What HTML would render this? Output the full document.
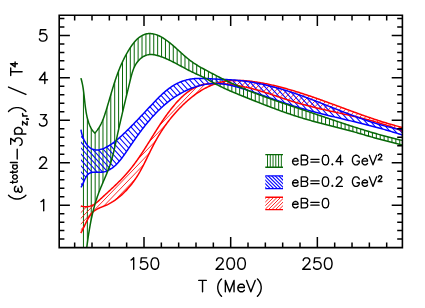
<!DOCTYPE html>
<html><head><meta charset="utf-8"><title>plot</title>
<style>html,body{margin:0;padding:0;background:#fff;font-family:"Liberation Sans",sans-serif;}svg{display:block;}</style></head>
<body>
<svg width="425" height="308" viewBox="0 0 425 308">
<rect x="0" y="0" width="425" height="308" fill="#fff"/>
<defs>
<clipPath id="frame"><rect x="59.2" y="15.3" width="343.2" height="232.29999999999998"/></clipPath>
<clipPath id="cg"><path d="M80.90 78.10 L81.18 79.05 L81.45 80.01 L81.70 80.98 L81.93 81.96 L82.16 82.94 L82.36 83.93 L82.56 84.92 L82.75 85.92 L82.92 86.93 L83.09 87.94 L83.24 88.96 L83.39 89.98 L83.53 91.01 L83.67 92.03 L83.80 93.07 L83.92 94.10 L84.04 95.14 L84.16 96.18 L84.27 97.22 L84.39 98.26 L84.50 99.31 L84.61 100.35 L84.72 101.39 L84.84 102.44 L84.95 103.48 L85.08 104.52 L85.20 105.56 L85.33 106.60 L85.46 107.64 L85.60 108.68 L85.75 109.71 L85.91 110.74 L86.07 111.76 L86.25 112.78 L86.44 113.80 L86.63 114.81 L86.84 115.82 L87.06 116.82 L87.30 117.82 L87.55 118.81 L87.82 119.79 L88.10 120.76 L88.40 121.73 L88.71 122.69 L89.05 123.64 L89.40 124.59 L89.78 125.52 L90.19 126.44 L90.63 127.34 L91.10 128.23 L91.60 129.09 L92.14 129.94 L92.73 130.77 L93.36 131.57 L94.03 132.35 L94.76 133.10 L95.44 132.38 L96.09 131.64 L96.71 130.88 L97.31 130.10 L97.89 129.30 L98.44 128.48 L98.98 127.65 L99.49 126.80 L99.99 125.94 L100.46 125.06 L100.92 124.17 L101.36 123.27 L101.78 122.36 L102.20 121.44 L102.59 120.50 L102.97 119.56 L103.35 118.62 L103.71 117.66 L104.06 116.70 L104.40 115.74 L104.73 114.77 L105.05 113.80 L105.37 112.82 L105.68 111.85 L105.99 110.87 L106.29 109.89 L106.59 108.92 L106.89 107.95 L107.18 106.97 L107.47 106.00 L107.76 105.03 L108.05 104.07 L108.33 103.10 L108.62 102.13 L108.90 101.17 L109.18 100.21 L109.47 99.25 L109.75 98.29 L110.03 97.33 L110.31 96.37 L110.59 95.42 L110.87 94.46 L111.15 93.51 L111.43 92.56 L111.71 91.61 L112.00 90.66 L112.28 89.71 L112.57 88.76 L112.86 87.81 L113.15 86.87 L113.44 85.93 L113.73 84.99 L114.03 84.04 L114.33 83.10 L114.63 82.17 L114.94 81.23 L115.25 80.29 L115.56 79.36 L115.88 78.43 L116.20 77.49 L116.52 76.56 L116.85 75.63 L117.19 74.70 L117.53 73.78 L117.87 72.85 L118.22 71.92 L118.58 71.00 L118.94 70.08 L119.31 69.16 L119.68 68.23 L120.06 67.32 L120.45 66.40 L120.84 65.48 L121.24 64.56 L121.65 63.65 L122.06 62.73 L122.49 61.82 L122.92 60.91 L123.36 60.00 L123.80 59.09 L124.26 58.18 L124.72 57.27 L125.20 56.37 L125.68 55.46 L126.17 54.56 L126.68 53.66 L127.19 52.75 L127.71 51.85 L128.24 50.95 L128.78 50.05 L129.34 49.16 L129.90 48.26 L130.48 47.38 L131.07 46.50 L131.67 45.63 L132.28 44.77 L132.91 43.93 L133.55 43.10 L134.20 42.30 L134.87 41.52 L135.55 40.76 L136.25 40.02 L136.96 39.32 L137.69 38.64 L138.44 38.00 L139.20 37.39 L139.98 36.82 L140.77 36.29 L141.59 35.80 L142.42 35.36 L143.27 34.96 L144.14 34.61 L145.02 34.31 L145.92 34.06 L146.83 33.85 L147.75 33.70 L148.68 33.60 L149.61 33.56 L150.54 33.56 L151.48 33.63 L152.41 33.74 L153.35 33.90 L154.28 34.11 L155.21 34.36 L156.14 34.66 L157.07 34.99 L157.99 35.37 L158.91 35.77 L159.82 36.22 L160.73 36.69 L161.64 37.19 L162.54 37.71 L163.43 38.26 L164.31 38.83 L165.18 39.41 L166.05 40.02 L166.91 40.63 L167.75 41.26 L168.59 41.90 L169.42 42.55 L170.23 43.20 L171.03 43.85 L171.83 44.51 L172.61 45.17 L173.39 45.84 L174.16 46.50 L174.92 47.18 L175.68 47.85 L176.43 48.52 L177.17 49.19 L177.91 49.87 L178.65 50.54 L179.39 51.21 L180.12 51.88 L180.86 52.55 L181.59 53.22 L182.32 53.88 L183.06 54.54 L183.79 55.20 L184.53 55.85 L185.27 56.49 L186.02 57.13 L186.77 57.77 L187.52 58.39 L188.29 59.01 L189.05 59.62 L189.83 60.23 L190.61 60.82 L191.41 61.41 L192.21 61.98 L193.02 62.55 L193.84 63.11 L194.67 63.65 L195.51 64.19 L196.36 64.73 L197.21 65.25 L198.07 65.77 L198.94 66.28 L199.81 66.78 L200.68 67.28 L201.56 67.78 L202.44 68.27 L203.33 68.76 L204.21 69.24 L205.10 69.72 L205.99 70.20 L206.88 70.68 L207.77 71.16 L208.66 71.63 L209.55 72.11 L210.44 72.58 L211.33 73.05 L212.23 73.52 L213.12 73.99 L214.01 74.45 L214.90 74.92 L215.80 75.38 L216.69 75.84 L217.59 76.30 L218.48 76.75 L219.38 77.21 L220.28 77.66 L221.17 78.11 L222.07 78.56 L222.97 79.00 L223.87 79.45 L224.77 79.89 L225.67 80.33 L226.58 80.77 L227.48 81.21 L228.38 81.64 L229.29 82.07 L230.19 82.50 L231.10 82.93 L232.00 83.35 L232.91 83.77 L233.82 84.19 L234.73 84.61 L235.64 85.03 L236.55 85.44 L237.47 85.85 L238.38 86.26 L239.30 86.66 L240.21 87.07 L241.13 87.47 L242.05 87.87 L242.97 88.26 L243.89 88.65 L244.81 89.04 L245.73 89.43 L246.65 89.81 L247.58 90.20 L248.51 90.58 L249.43 90.95 L250.36 91.33 L251.29 91.70 L252.22 92.07 L253.15 92.44 L254.08 92.80 L255.02 93.17 L255.95 93.53 L256.89 93.89 L257.82 94.24 L258.76 94.60 L259.70 94.95 L260.64 95.30 L261.57 95.65 L262.51 96.00 L263.45 96.35 L264.40 96.69 L265.34 97.04 L266.28 97.38 L267.22 97.72 L268.17 98.06 L269.11 98.39 L270.06 98.73 L271.00 99.06 L271.95 99.40 L272.90 99.73 L273.84 100.06 L274.79 100.39 L275.74 100.72 L276.69 101.04 L277.64 101.37 L278.59 101.70 L279.54 102.02 L280.49 102.34 L281.44 102.67 L282.39 102.99 L283.34 103.31 L284.29 103.63 L285.24 103.95 L286.20 104.27 L287.15 104.59 L288.10 104.91 L289.05 105.23 L290.01 105.54 L290.96 105.86 L291.91 106.18 L292.87 106.50 L293.82 106.81 L294.77 107.13 L295.72 107.45 L296.68 107.76 L297.63 108.08 L298.58 108.40 L299.54 108.71 L300.49 109.03 L301.44 109.35 L302.40 109.66 L303.35 109.98 L304.30 110.30 L305.25 110.62 L306.20 110.94 L307.16 111.26 L308.11 111.58 L309.06 111.90 L310.01 112.22 L310.96 112.54 L311.91 112.86 L312.86 113.18 L313.81 113.50 L314.76 113.82 L315.71 114.15 L316.66 114.47 L317.61 114.79 L318.56 115.11 L319.51 115.43 L320.46 115.76 L321.41 116.08 L322.36 116.40 L323.31 116.72 L324.26 117.04 L325.21 117.37 L326.16 117.69 L327.11 118.01 L328.06 118.33 L329.01 118.65 L329.96 118.97 L330.91 119.29 L331.86 119.61 L332.81 119.93 L333.76 120.25 L334.71 120.57 L335.66 120.89 L336.61 121.21 L337.56 121.53 L338.52 121.85 L339.47 122.16 L340.42 122.48 L341.37 122.80 L342.32 123.11 L343.27 123.43 L344.22 123.74 L345.17 124.05 L346.13 124.37 L347.08 124.68 L348.03 124.99 L348.98 125.30 L349.94 125.61 L350.89 125.92 L351.84 126.23 L352.80 126.53 L353.75 126.84 L354.71 127.14 L355.66 127.45 L356.62 127.75 L357.57 128.05 L358.53 128.35 L359.48 128.65 L360.44 128.95 L361.39 129.25 L362.35 129.55 L363.31 129.84 L364.27 130.14 L365.23 130.43 L366.18 130.72 L367.14 131.01 L368.10 131.30 L369.06 131.59 L370.02 131.87 L370.98 132.16 L371.95 132.44 L372.91 132.72 L373.87 133.00 L374.83 133.28 L375.80 133.56 L376.76 133.83 L377.72 134.11 L378.69 134.38 L379.65 134.65 L380.62 134.92 L381.59 135.19 L382.55 135.45 L383.52 135.72 L384.49 135.98 L385.46 136.24 L386.43 136.50 L387.40 136.75 L388.37 137.01 L389.34 137.26 L390.31 137.51 L391.29 137.76 L392.26 138.01 L393.23 138.25 L394.21 138.49 L395.19 138.73 L396.16 138.97 L397.14 139.21 L398.12 139.44 L399.10 139.67 L400.07 139.90 L401.05 140.13 L402.04 140.36 L403.02 140.58 L404.00 140.80 L404.00 145.60 L403.04 145.31 L402.08 145.03 L401.12 144.75 L400.15 144.48 L399.18 144.21 L398.22 143.95 L397.25 143.68 L396.28 143.42 L395.31 143.17 L394.34 142.91 L393.37 142.66 L392.39 142.41 L391.42 142.16 L390.45 141.91 L389.47 141.67 L388.50 141.42 L387.52 141.18 L386.55 140.93 L385.58 140.69 L384.60 140.44 L383.63 140.20 L382.65 139.95 L381.68 139.71 L380.71 139.46 L379.74 139.21 L378.76 138.96 L377.79 138.70 L376.82 138.44 L375.86 138.19 L374.89 137.92 L373.92 137.66 L372.96 137.39 L371.99 137.12 L371.03 136.85 L370.07 136.57 L369.10 136.29 L368.14 136.02 L367.18 135.74 L366.22 135.45 L365.26 135.17 L364.30 134.89 L363.34 134.61 L362.38 134.33 L361.42 134.04 L360.46 133.76 L359.50 133.48 L358.54 133.20 L357.58 132.92 L356.62 132.64 L355.66 132.37 L354.70 132.10 L353.73 131.83 L352.77 131.56 L351.80 131.29 L350.84 131.03 L349.87 130.76 L348.90 130.50 L347.94 130.24 L346.97 129.98 L346.00 129.73 L345.03 129.47 L344.06 129.22 L343.09 128.97 L342.12 128.71 L341.15 128.46 L340.18 128.21 L339.21 127.96 L338.23 127.72 L337.26 127.47 L336.29 127.22 L335.32 126.97 L334.34 126.73 L333.37 126.48 L332.40 126.23 L331.43 125.99 L330.45 125.74 L329.48 125.50 L328.51 125.25 L327.54 125.00 L326.56 124.75 L325.59 124.51 L324.62 124.26 L323.65 124.01 L322.68 123.76 L321.70 123.51 L320.73 123.25 L319.76 123.00 L318.79 122.75 L317.82 122.49 L316.85 122.23 L315.88 121.97 L314.92 121.71 L313.95 121.45 L312.98 121.19 L312.01 120.92 L311.05 120.65 L310.08 120.38 L309.12 120.11 L308.16 119.84 L307.19 119.56 L306.23 119.28 L305.27 119.00 L304.31 118.71 L303.35 118.43 L302.39 118.14 L301.43 117.85 L300.48 117.55 L299.52 117.25 L298.56 116.95 L297.61 116.65 L296.66 116.35 L295.70 116.04 L294.75 115.73 L293.80 115.42 L292.85 115.10 L291.90 114.79 L290.95 114.47 L290.00 114.15 L289.05 113.83 L288.11 113.50 L287.16 113.18 L286.21 112.85 L285.27 112.52 L284.32 112.19 L283.38 111.85 L282.44 111.52 L281.49 111.18 L280.55 110.84 L279.61 110.50 L278.67 110.16 L277.73 109.81 L276.79 109.47 L275.85 109.12 L274.91 108.77 L273.97 108.42 L273.03 108.07 L272.09 107.72 L271.15 107.36 L270.22 107.01 L269.28 106.65 L268.34 106.29 L267.41 105.93 L266.47 105.57 L265.54 105.21 L264.60 104.85 L263.67 104.49 L262.73 104.12 L261.80 103.76 L260.87 103.39 L259.93 103.02 L259.00 102.66 L258.06 102.29 L257.13 101.92 L256.20 101.55 L255.27 101.18 L254.33 100.81 L253.40 100.44 L252.47 100.06 L251.54 99.69 L250.61 99.32 L249.67 98.95 L248.74 98.57 L247.81 98.20 L246.88 97.82 L245.95 97.45 L245.02 97.07 L244.09 96.70 L243.15 96.32 L242.22 95.95 L241.29 95.57 L240.36 95.20 L239.43 94.82 L238.50 94.44 L237.57 94.06 L236.64 93.68 L235.71 93.30 L234.79 92.91 L233.86 92.52 L232.94 92.13 L232.01 91.74 L231.09 91.35 L230.17 90.95 L229.25 90.55 L228.33 90.14 L227.42 89.74 L226.50 89.32 L225.59 88.91 L224.68 88.49 L223.77 88.06 L222.87 87.64 L221.96 87.20 L221.06 86.76 L220.16 86.32 L219.27 85.87 L218.38 85.41 L217.49 84.95 L216.60 84.48 L215.72 84.01 L214.84 83.53 L213.96 83.04 L213.09 82.55 L212.21 82.05 L211.34 81.56 L210.47 81.06 L209.60 80.56 L208.73 80.07 L207.85 79.59 L206.97 79.11 L206.09 78.65 L205.21 78.19 L204.32 77.74 L203.43 77.30 L202.53 76.87 L201.63 76.44 L200.74 76.02 L199.83 75.60 L198.93 75.19 L198.03 74.77 L197.13 74.36 L196.23 73.95 L195.33 73.53 L194.43 73.11 L193.53 72.69 L192.63 72.26 L191.74 71.83 L190.84 71.39 L189.96 70.94 L189.07 70.49 L188.18 70.03 L187.30 69.57 L186.42 69.10 L185.54 68.63 L184.65 68.16 L183.77 67.68 L182.89 67.20 L182.01 66.73 L181.13 66.25 L180.25 65.77 L179.37 65.29 L178.49 64.81 L177.60 64.33 L176.72 63.86 L175.83 63.39 L174.94 62.92 L174.04 62.46 L173.15 62.00 L172.25 61.55 L171.35 61.10 L170.44 60.66 L169.53 60.22 L168.62 59.79 L167.70 59.37 L166.77 58.96 L165.84 58.56 L164.91 58.17 L163.97 57.79 L163.02 57.42 L162.07 57.06 L161.11 56.72 L160.15 56.38 L159.18 56.06 L158.20 55.76 L157.22 55.48 L156.23 55.22 L155.25 55.00 L154.27 54.81 L153.29 54.66 L152.31 54.56 L151.34 54.50 L150.38 54.50 L149.43 54.56 L148.49 54.69 L147.57 54.88 L146.66 55.13 L145.76 55.43 L144.89 55.80 L144.03 56.22 L143.19 56.69 L142.37 57.20 L141.58 57.77 L140.81 58.37 L140.07 59.02 L139.35 59.70 L138.67 60.42 L138.01 61.17 L137.38 61.95 L136.79 62.75 L136.23 63.58 L135.70 64.44 L135.21 65.31 L134.75 66.20 L134.31 67.11 L133.90 68.03 L133.52 68.97 L133.16 69.93 L132.82 70.89 L132.49 71.87 L132.19 72.85 L131.90 73.84 L131.62 74.84 L131.35 75.84 L131.09 76.85 L130.83 77.86 L130.59 78.87 L130.34 79.88 L130.10 80.89 L129.85 81.89 L129.61 82.89 L129.37 83.89 L129.12 84.89 L128.88 85.88 L128.64 86.88 L128.40 87.87 L128.16 88.86 L127.92 89.84 L127.68 90.83 L127.45 91.81 L127.21 92.80 L126.97 93.78 L126.73 94.75 L126.50 95.73 L126.26 96.71 L126.03 97.68 L125.80 98.66 L125.56 99.63 L125.33 100.60 L125.10 101.57 L124.87 102.54 L124.63 103.51 L124.40 104.47 L124.17 105.44 L123.94 106.41 L123.72 107.37 L123.49 108.34 L123.26 109.30 L123.03 110.26 L122.81 111.23 L122.58 112.19 L122.35 113.15 L122.13 114.11 L121.90 115.07 L121.68 116.04 L121.46 117.00 L121.23 117.96 L121.01 118.92 L120.79 119.89 L120.57 120.85 L120.35 121.81 L120.13 122.77 L119.91 123.74 L119.69 124.70 L119.47 125.67 L119.26 126.63 L119.04 127.60 L118.82 128.57 L118.61 129.53 L118.39 130.50 L118.18 131.47 L117.96 132.44 L117.75 133.42 L117.53 134.39 L117.32 135.36 L117.11 136.34 L116.90 137.32 L116.69 138.30 L116.47 139.28 L116.26 140.26 L116.05 141.24 L115.84 142.23 L115.63 143.21 L115.42 144.20 L115.21 145.18 L114.99 146.17 L114.77 147.16 L114.55 148.15 L114.33 149.13 L114.11 150.12 L113.88 151.10 L113.64 152.09 L113.41 153.07 L113.16 154.06 L112.92 155.04 L112.67 156.02 L112.41 156.99 L112.14 157.97 L111.87 158.94 L111.60 159.91 L111.31 160.88 L111.02 161.85 L110.72 162.81 L110.41 163.77 L110.09 164.72 L109.77 165.68 L109.43 166.62 L109.09 167.57 L108.74 168.51 L108.39 169.45 L108.03 170.39 L107.66 171.32 L107.28 172.26 L106.91 173.19 L106.52 174.11 L106.14 175.04 L105.75 175.96 L105.36 176.89 L104.96 177.81 L104.57 178.73 L104.17 179.65 L103.78 180.57 L103.38 181.49 L102.98 182.41 L102.59 183.33 L102.19 184.25 L101.80 185.18 L101.41 186.10 L101.03 187.02 L100.65 187.94 L100.27 188.87 L99.90 189.79 L99.53 190.72 L99.17 191.65 L98.81 192.58 L98.46 193.52 L98.12 194.45 L97.78 195.39 L97.45 196.33 L97.13 197.27 L96.81 198.22 L96.50 199.16 L96.20 200.11 L95.90 201.06 L95.61 202.01 L95.32 202.97 L95.04 203.92 L94.77 204.88 L94.50 205.84 L94.23 206.80 L93.97 207.76 L93.72 208.72 L93.47 209.69 L93.23 210.66 L92.99 211.63 L92.75 212.60 L92.52 213.57 L92.30 214.54 L92.08 215.52 L91.86 216.49 L91.65 217.47 L91.44 218.45 L91.24 219.43 L91.04 220.41 L90.85 221.39 L90.65 222.37 L90.47 223.36 L90.28 224.34 L90.10 225.33 L89.93 226.32 L89.75 227.31 L89.58 228.30 L89.41 229.29 L89.25 230.28 L89.09 231.27 L88.93 232.26 L88.77 233.26 L88.62 234.25 L88.47 235.25 L88.32 236.24 L88.18 237.24 L88.03 238.24 L87.89 239.23 L87.75 240.23 L87.61 241.23 L87.48 242.23 L87.34 243.23 L87.21 244.23 L87.08 245.23 L86.95 246.23 L86.83 247.23 L86.70 248.23 L86.57 249.23 L86.45 250.23 L86.33 251.24 L86.20 252.24 L86.08 253.24 L85.96 254.24 L85.84 255.24 L85.72 256.25 L85.60 257.25 L85.48 258.25 L85.36 259.25 L85.24 260.25 L85.13 261.25 L85.01 262.25 L84.89 263.25 L84.77 264.25 L84.65 265.25 L84.53 266.25 L84.41 267.25 L84.29 268.25 L84.16 269.25 L84.04 270.25 L83.91 271.25 L83.79 272.24 L83.66 273.24 L83.53 274.23 L83.41 275.23 L83.27 276.22 L83.14 277.22 L83.01 278.21 L82.87 279.20 L82.73 280.19 L82.59 281.18 L82.45 282.17 L82.31 283.16 L82.16 284.14 L82.01 285.13 L81.86 286.12 L81.71 287.10 L81.55 288.08 L81.39 289.06 L81.23 290.04 L81.07 291.02 L80.90 292.00 Z"/></clipPath>
<clipPath id="cb"><path d="M80.96 129.60 L81.12 130.54 L81.31 131.50 L81.53 132.49 L81.78 133.49 L82.06 134.50 L82.37 135.52 L82.71 136.54 L83.08 137.55 L83.49 138.56 L83.92 139.55 L84.38 140.52 L84.86 141.47 L85.38 142.39 L85.93 143.28 L86.51 144.13 L87.12 144.93 L87.75 145.69 L88.42 146.40 L89.11 147.05 L89.83 147.63 L90.58 148.16 L91.36 148.62 L92.16 149.01 L92.98 149.34 L93.82 149.60 L94.68 149.80 L95.55 149.93 L96.44 149.99 L97.34 149.98 L98.25 149.91 L99.17 149.78 L100.10 149.59 L101.03 149.35 L101.97 149.06 L102.91 148.73 L103.84 148.35 L104.77 147.94 L105.70 147.50 L106.62 147.02 L107.53 146.52 L108.43 146.00 L109.32 145.47 L110.20 144.91 L111.06 144.34 L111.91 143.76 L112.75 143.16 L113.58 142.55 L114.40 141.92 L115.21 141.29 L116.01 140.65 L116.80 139.99 L117.59 139.33 L118.36 138.66 L119.13 137.99 L119.89 137.30 L120.65 136.62 L121.40 135.93 L122.14 135.23 L122.88 134.54 L123.62 133.84 L124.35 133.14 L125.08 132.44 L125.80 131.74 L126.52 131.04 L127.24 130.34 L127.96 129.63 L128.67 128.93 L129.37 128.22 L130.08 127.52 L130.78 126.81 L131.48 126.11 L132.18 125.40 L132.87 124.69 L133.57 123.98 L134.26 123.27 L134.95 122.55 L135.64 121.84 L136.32 121.13 L137.01 120.41 L137.69 119.70 L138.37 118.98 L139.06 118.26 L139.74 117.54 L140.42 116.82 L141.10 116.10 L141.78 115.38 L142.46 114.66 L143.14 113.93 L143.82 113.21 L144.50 112.48 L145.18 111.75 L145.86 111.03 L146.54 110.30 L147.22 109.57 L147.90 108.83 L148.59 108.10 L149.27 107.37 L149.96 106.63 L150.65 105.90 L151.34 105.16 L152.03 104.42 L152.73 103.68 L153.42 102.94 L154.12 102.20 L154.83 101.47 L155.53 100.73 L156.24 100.00 L156.95 99.26 L157.67 98.54 L158.39 97.81 L159.11 97.09 L159.84 96.38 L160.57 95.67 L161.31 94.97 L162.06 94.27 L162.81 93.59 L163.56 92.91 L164.33 92.24 L165.09 91.58 L165.87 90.93 L166.65 90.29 L167.44 89.66 L168.24 89.04 L169.04 88.44 L169.85 87.85 L170.67 87.27 L171.50 86.71 L172.34 86.17 L173.18 85.63 L174.04 85.12 L174.90 84.62 L175.77 84.14 L176.66 83.68 L177.55 83.24 L178.45 82.81 L179.36 82.40 L180.27 82.02 L181.20 81.65 L182.13 81.30 L183.07 80.97 L184.01 80.66 L184.96 80.37 L185.92 80.10 L186.88 79.85 L187.84 79.63 L188.81 79.42 L189.79 79.24 L190.77 79.08 L191.75 78.93 L192.74 78.81 L193.73 78.71 L194.72 78.62 L195.71 78.55 L196.71 78.49 L197.71 78.45 L198.72 78.43 L199.72 78.41 L200.73 78.41 L201.74 78.41 L202.75 78.43 L203.76 78.46 L204.78 78.49 L205.79 78.53 L206.81 78.57 L207.82 78.62 L208.84 78.68 L209.86 78.73 L210.87 78.79 L211.89 78.85 L212.90 78.91 L213.92 78.96 L214.93 79.02 L215.95 79.07 L216.96 79.12 L217.97 79.17 L218.98 79.22 L219.99 79.26 L221.00 79.31 L222.00 79.35 L223.01 79.40 L224.02 79.44 L225.02 79.49 L226.03 79.54 L227.03 79.59 L228.03 79.64 L229.03 79.70 L230.04 79.76 L231.04 79.82 L232.04 79.88 L233.04 79.95 L234.03 80.03 L235.03 80.11 L236.03 80.19 L237.03 80.28 L238.02 80.38 L239.02 80.48 L240.02 80.58 L241.01 80.69 L242.00 80.81 L243.00 80.93 L243.99 81.05 L244.98 81.18 L245.97 81.32 L246.97 81.46 L247.96 81.60 L248.95 81.75 L249.93 81.91 L250.92 82.07 L251.91 82.23 L252.90 82.40 L253.88 82.57 L254.87 82.75 L255.85 82.93 L256.84 83.12 L257.82 83.31 L258.81 83.51 L259.79 83.70 L260.77 83.91 L261.75 84.12 L262.73 84.33 L263.71 84.54 L264.69 84.76 L265.67 84.99 L266.64 85.21 L267.62 85.45 L268.59 85.68 L269.57 85.92 L270.54 86.16 L271.52 86.41 L272.49 86.66 L273.46 86.92 L274.43 87.17 L275.40 87.43 L276.37 87.70 L277.34 87.97 L278.31 88.24 L279.27 88.51 L280.24 88.79 L281.20 89.07 L282.17 89.36 L283.13 89.65 L284.09 89.94 L285.06 90.23 L286.02 90.53 L286.98 90.83 L287.94 91.13 L288.90 91.44 L289.85 91.74 L290.81 92.05 L291.76 92.37 L292.72 92.69 L293.67 93.00 L294.63 93.33 L295.58 93.65 L296.53 93.98 L297.48 94.31 L298.43 94.64 L299.38 94.97 L300.33 95.31 L301.27 95.65 L302.22 95.99 L303.16 96.33 L304.11 96.67 L305.05 97.02 L306.00 97.37 L306.94 97.72 L307.88 98.07 L308.83 98.42 L309.77 98.78 L310.71 99.13 L311.65 99.49 L312.59 99.85 L313.53 100.21 L314.47 100.57 L315.40 100.93 L316.34 101.29 L317.28 101.66 L318.22 102.02 L319.16 102.39 L320.09 102.76 L321.03 103.12 L321.97 103.49 L322.90 103.86 L323.84 104.23 L324.77 104.60 L325.71 104.97 L326.64 105.34 L327.58 105.71 L328.51 106.08 L329.45 106.45 L330.38 106.82 L331.32 107.19 L332.25 107.56 L333.19 107.93 L334.12 108.30 L335.06 108.67 L335.99 109.04 L336.93 109.41 L337.86 109.78 L338.80 110.15 L339.74 110.52 L340.67 110.88 L341.61 111.25 L342.54 111.62 L343.48 111.98 L344.42 112.34 L345.35 112.71 L346.29 113.07 L347.23 113.43 L348.17 113.79 L349.11 114.15 L350.05 114.50 L350.99 114.86 L351.93 115.21 L352.87 115.56 L353.81 115.91 L354.75 116.26 L355.69 116.61 L356.63 116.95 L357.58 117.29 L358.52 117.64 L359.46 117.97 L360.41 118.31 L361.36 118.65 L362.30 118.98 L363.25 119.31 L364.20 119.64 L365.15 119.96 L366.10 120.28 L367.05 120.60 L368.00 120.92 L368.95 121.24 L369.90 121.55 L370.86 121.86 L371.81 122.16 L372.77 122.47 L373.72 122.77 L374.68 123.07 L375.64 123.36 L376.60 123.65 L377.56 123.94 L378.52 124.22 L379.49 124.50 L380.45 124.78 L381.42 125.05 L382.38 125.32 L383.35 125.59 L384.32 125.85 L385.29 126.11 L386.26 126.36 L387.24 126.61 L388.21 126.86 L389.19 127.10 L390.16 127.34 L391.14 127.58 L392.12 127.81 L393.10 128.03 L394.09 128.25 L395.07 128.47 L396.06 128.68 L397.04 128.89 L398.03 129.09 L399.02 129.29 L400.02 129.48 L401.01 129.67 L402.00 129.85 L403.00 130.03 L404.00 130.20 L404.00 135.60 L403.05 135.28 L402.10 134.96 L401.14 134.64 L400.19 134.33 L399.23 134.02 L398.28 133.71 L397.32 133.40 L396.36 133.10 L395.40 132.80 L394.45 132.50 L393.49 132.20 L392.52 131.91 L391.56 131.62 L390.60 131.33 L389.64 131.04 L388.67 130.76 L387.71 130.48 L386.75 130.20 L385.78 129.92 L384.81 129.64 L383.85 129.37 L382.88 129.10 L381.91 128.83 L380.94 128.56 L379.97 128.29 L379.00 128.03 L378.03 127.76 L377.06 127.50 L376.09 127.24 L375.12 126.98 L374.15 126.72 L373.18 126.47 L372.20 126.21 L371.23 125.96 L370.26 125.71 L369.28 125.46 L368.31 125.21 L367.33 124.96 L366.36 124.72 L365.38 124.47 L364.41 124.23 L363.43 123.98 L362.45 123.74 L361.48 123.50 L360.50 123.26 L359.52 123.02 L358.55 122.78 L357.57 122.54 L356.59 122.30 L355.61 122.06 L354.64 121.82 L353.66 121.59 L352.68 121.35 L351.70 121.11 L350.72 120.88 L349.74 120.64 L348.77 120.41 L347.79 120.17 L346.81 119.94 L345.83 119.70 L344.85 119.47 L343.87 119.23 L342.89 119.00 L341.91 118.76 L340.94 118.53 L339.96 118.29 L338.98 118.06 L338.00 117.82 L337.02 117.59 L336.05 117.35 L335.07 117.12 L334.09 116.88 L333.11 116.64 L332.14 116.40 L331.16 116.16 L330.18 115.92 L329.21 115.68 L328.23 115.44 L327.25 115.20 L326.28 114.96 L325.30 114.71 L324.33 114.47 L323.35 114.22 L322.38 113.98 L321.40 113.73 L320.43 113.48 L319.46 113.23 L318.49 112.98 L317.51 112.73 L316.54 112.47 L315.57 112.22 L314.60 111.96 L313.63 111.70 L312.66 111.44 L311.69 111.18 L310.72 110.92 L309.75 110.65 L308.79 110.39 L307.82 110.12 L306.85 109.85 L305.89 109.58 L304.92 109.30 L303.96 109.03 L302.99 108.75 L302.03 108.47 L301.07 108.19 L300.11 107.91 L299.14 107.62 L298.18 107.33 L297.22 107.04 L296.27 106.75 L295.31 106.45 L294.35 106.15 L293.39 105.85 L292.44 105.55 L291.48 105.25 L290.53 104.94 L289.58 104.63 L288.63 104.32 L287.67 104.00 L286.72 103.69 L285.77 103.37 L284.82 103.05 L283.87 102.73 L282.92 102.41 L281.97 102.09 L281.02 101.76 L280.08 101.43 L279.13 101.11 L278.18 100.78 L277.23 100.45 L276.29 100.12 L275.34 99.79 L274.39 99.46 L273.44 99.13 L272.50 98.79 L271.55 98.46 L270.60 98.13 L269.66 97.79 L268.71 97.46 L267.76 97.13 L266.82 96.79 L265.87 96.46 L264.92 96.13 L263.97 95.79 L263.02 95.46 L262.08 95.13 L261.13 94.80 L260.18 94.47 L259.23 94.14 L258.28 93.81 L257.33 93.48 L256.38 93.16 L255.42 92.83 L254.47 92.51 L253.52 92.19 L252.56 91.86 L251.61 91.55 L250.65 91.23 L249.70 90.91 L248.74 90.60 L247.78 90.29 L246.82 89.98 L245.86 89.67 L244.90 89.36 L243.94 89.06 L242.98 88.76 L242.01 88.46 L241.05 88.17 L240.08 87.88 L239.11 87.59 L238.14 87.31 L237.17 87.04 L236.20 86.77 L235.23 86.51 L234.26 86.25 L233.28 86.00 L232.31 85.77 L231.33 85.54 L230.35 85.32 L229.38 85.11 L228.40 84.91 L227.41 84.72 L226.43 84.54 L225.45 84.38 L224.46 84.22 L223.48 84.09 L222.49 83.96 L221.50 83.85 L220.51 83.76 L219.52 83.68 L218.53 83.61 L217.53 83.56 L216.54 83.53 L215.54 83.52 L214.55 83.53 L213.55 83.55 L212.55 83.59 L211.55 83.65 L210.55 83.73 L209.55 83.82 L208.55 83.94 L207.55 84.06 L206.55 84.21 L205.55 84.37 L204.55 84.54 L203.56 84.74 L202.57 84.94 L201.58 85.17 L200.59 85.40 L199.60 85.65 L198.62 85.92 L197.64 86.20 L196.66 86.49 L195.69 86.80 L194.72 87.12 L193.76 87.45 L192.80 87.79 L191.85 88.15 L190.90 88.52 L189.96 88.90 L189.02 89.29 L188.09 89.69 L187.16 90.10 L186.24 90.53 L185.33 90.96 L184.43 91.41 L183.53 91.86 L182.64 92.32 L181.76 92.80 L180.88 93.28 L180.01 93.77 L179.15 94.27 L178.29 94.78 L177.44 95.30 L176.60 95.83 L175.76 96.37 L174.93 96.91 L174.11 97.46 L173.29 98.03 L172.48 98.60 L171.68 99.17 L170.88 99.76 L170.09 100.35 L169.30 100.95 L168.52 101.56 L167.74 102.18 L166.97 102.80 L166.21 103.43 L165.45 104.07 L164.70 104.72 L163.95 105.37 L163.21 106.03 L162.47 106.69 L161.74 107.36 L161.01 108.04 L160.29 108.73 L159.57 109.42 L158.86 110.11 L158.15 110.81 L157.44 111.52 L156.75 112.23 L156.05 112.95 L155.36 113.68 L154.68 114.41 L154.00 115.14 L153.32 115.88 L152.65 116.62 L151.98 117.37 L151.31 118.12 L150.65 118.88 L150.00 119.64 L149.34 120.41 L148.69 121.18 L148.05 121.96 L147.41 122.73 L146.77 123.51 L146.13 124.30 L145.50 125.09 L144.87 125.88 L144.25 126.68 L143.62 127.47 L143.00 128.28 L142.39 129.08 L141.77 129.89 L141.16 130.70 L140.56 131.51 L139.95 132.32 L139.35 133.14 L138.75 133.96 L138.15 134.78 L137.55 135.60 L136.96 136.43 L136.37 137.25 L135.78 138.08 L135.19 138.91 L134.61 139.74 L134.02 140.57 L133.44 141.40 L132.86 142.23 L132.29 143.07 L131.71 143.90 L131.13 144.74 L130.56 145.57 L129.99 146.41 L129.42 147.24 L128.85 148.08 L128.28 148.91 L127.71 149.75 L127.15 150.58 L126.58 151.41 L126.01 152.25 L125.45 153.08 L124.88 153.90 L124.30 154.72 L123.72 155.54 L123.14 156.35 L122.55 157.16 L121.96 157.96 L121.35 158.75 L120.74 159.53 L120.12 160.30 L119.49 161.06 L118.84 161.81 L118.19 162.55 L117.52 163.28 L116.83 163.99 L116.13 164.69 L115.42 165.37 L114.69 166.03 L113.94 166.67 L113.18 167.28 L112.41 167.87 L111.62 168.44 L110.81 168.97 L109.98 169.47 L109.14 169.93 L108.28 170.36 L107.40 170.75 L106.51 171.10 L105.60 171.41 L104.67 171.67 L103.72 171.89 L102.75 172.06 L101.76 172.17 L100.76 172.24 L99.73 172.26 L98.70 172.25 L97.67 172.23 L96.64 172.20 L95.62 172.18 L94.61 172.18 L93.62 172.22 L92.66 172.31 L91.72 172.46 L90.83 172.69 L89.98 173.00 L89.18 173.42 L88.44 173.95 L87.75 174.60 L87.11 175.34 L86.51 176.18 L85.96 177.08 L85.44 178.04 L84.95 179.03 L84.48 180.06 L84.03 181.09 L83.59 182.13 L83.17 183.14 L82.74 184.12 L82.31 185.05 L81.88 185.91 L81.43 186.70 L80.96 187.40 Z"/></clipPath>
<clipPath id="cr"><path d="M80.80 206.00 L81.99 206.32 L83.14 206.55 L84.25 206.70 L85.33 206.78 L86.37 206.78 L87.39 206.72 L88.37 206.58 L89.32 206.39 L90.25 206.13 L91.15 205.82 L92.02 205.46 L92.87 205.05 L93.70 204.59 L94.51 204.09 L95.30 203.55 L96.07 202.98 L96.83 202.37 L97.57 201.74 L98.31 201.09 L99.04 200.43 L99.77 199.75 L100.49 199.07 L101.22 198.39 L101.95 197.70 L102.68 197.02 L103.41 196.34 L104.15 195.66 L104.89 194.98 L105.63 194.30 L106.37 193.61 L107.11 192.93 L107.85 192.25 L108.59 191.57 L109.33 190.88 L110.07 190.20 L110.81 189.51 L111.55 188.82 L112.29 188.13 L113.03 187.44 L113.77 186.75 L114.50 186.06 L115.23 185.36 L115.97 184.66 L116.69 183.96 L117.42 183.26 L118.14 182.55 L118.86 181.84 L119.57 181.13 L120.29 180.41 L120.99 179.70 L121.70 178.97 L122.40 178.25 L123.09 177.52 L123.78 176.78 L124.46 176.04 L125.14 175.30 L125.81 174.55 L126.48 173.80 L127.14 173.05 L127.79 172.29 L128.44 171.52 L129.08 170.75 L129.72 169.98 L130.35 169.20 L130.97 168.41 L131.60 167.63 L132.21 166.84 L132.82 166.04 L133.43 165.25 L134.03 164.45 L134.63 163.64 L135.22 162.83 L135.81 162.02 L136.40 161.21 L136.98 160.39 L137.56 159.57 L138.13 158.75 L138.70 157.93 L139.27 157.10 L139.83 156.27 L140.39 155.44 L140.95 154.60 L141.51 153.77 L142.06 152.93 L142.61 152.09 L143.16 151.25 L143.71 150.40 L144.25 149.56 L144.80 148.71 L145.34 147.86 L145.88 147.01 L146.41 146.16 L146.95 145.31 L147.49 144.46 L148.02 143.61 L148.56 142.75 L149.09 141.90 L149.62 141.05 L150.16 140.19 L150.69 139.34 L151.22 138.48 L151.75 137.62 L152.28 136.77 L152.82 135.91 L153.35 135.06 L153.88 134.21 L154.42 133.35 L154.95 132.50 L155.49 131.65 L156.03 130.79 L156.57 129.94 L157.11 129.09 L157.65 128.25 L158.19 127.40 L158.74 126.55 L159.29 125.71 L159.84 124.87 L160.39 124.02 L160.94 123.19 L161.50 122.35 L162.06 121.51 L162.62 120.68 L163.19 119.85 L163.76 119.02 L164.33 118.19 L164.91 117.37 L165.48 116.55 L166.07 115.73 L166.66 114.92 L167.25 114.11 L167.84 113.30 L168.44 112.49 L169.05 111.69 L169.65 110.89 L170.27 110.09 L170.89 109.30 L171.51 108.51 L172.14 107.73 L172.77 106.95 L173.41 106.17 L174.06 105.40 L174.71 104.63 L175.36 103.87 L176.03 103.11 L176.69 102.36 L177.37 101.62 L178.05 100.88 L178.74 100.15 L179.44 99.42 L180.14 98.71 L180.85 98.00 L181.56 97.31 L182.29 96.62 L183.02 95.95 L183.76 95.29 L184.51 94.63 L185.26 94.00 L186.03 93.37 L186.80 92.76 L187.58 92.16 L188.37 91.58 L189.17 91.02 L189.98 90.47 L190.79 89.93 L191.62 89.42 L192.46 88.92 L193.30 88.44 L194.16 87.98 L195.02 87.54 L195.90 87.12 L196.79 86.72 L197.68 86.34 L198.59 85.98 L199.51 85.65 L200.44 85.34 L201.38 85.05 L202.33 84.79 L203.29 84.55 L204.27 84.33 L205.25 84.15 L206.25 83.98 L207.25 83.84 L208.27 83.72 L209.29 83.62 L210.32 83.54 L211.35 83.48 L212.39 83.43 L213.43 83.41 L214.48 83.40 L215.53 83.40 L216.59 83.42 L217.64 83.46 L218.70 83.50 L219.76 83.56 L220.81 83.63 L221.86 83.71 L222.92 83.80 L223.96 83.89 L225.01 83.99 L226.05 84.10 L227.08 84.22 L228.11 84.33 L229.13 84.46 L230.15 84.58 L231.15 84.71 L232.15 84.84 L233.14 84.97 L234.13 85.10 L235.11 85.24 L236.08 85.38 L237.05 85.53 L238.02 85.68 L238.98 85.84 L239.94 86.01 L240.90 86.17 L241.86 86.35 L242.81 86.53 L243.77 86.72 L244.72 86.92 L245.68 87.12 L246.63 87.33 L247.59 87.55 L248.54 87.77 L249.50 88.00 L250.45 88.23 L251.41 88.48 L252.36 88.72 L253.31 88.98 L254.27 89.23 L255.22 89.50 L256.18 89.76 L257.13 90.04 L258.09 90.31 L259.04 90.59 L260.00 90.88 L260.95 91.17 L261.91 91.46 L262.86 91.76 L263.82 92.05 L264.78 92.36 L265.73 92.66 L266.69 92.97 L267.64 93.28 L268.60 93.59 L269.56 93.90 L270.51 94.22 L271.47 94.54 L272.43 94.85 L273.39 95.17 L274.35 95.49 L275.30 95.82 L276.26 96.14 L277.22 96.46 L278.18 96.78 L279.14 97.10 L280.10 97.43 L281.06 97.75 L282.03 98.07 L282.99 98.39 L283.95 98.71 L284.91 99.02 L285.88 99.34 L286.84 99.65 L287.80 99.96 L288.77 100.27 L289.73 100.58 L290.70 100.89 L291.66 101.19 L292.63 101.49 L293.60 101.78 L294.57 102.08 L295.53 102.36 L296.50 102.65 L297.47 102.93 L298.44 103.21 L299.41 103.49 L300.38 103.76 L301.35 104.03 L302.33 104.30 L303.30 104.56 L304.27 104.83 L305.24 105.09 L306.22 105.34 L307.19 105.60 L308.17 105.85 L309.14 106.10 L310.12 106.35 L311.09 106.59 L312.07 106.83 L313.04 107.07 L314.02 107.31 L315.00 107.55 L315.97 107.79 L316.95 108.02 L317.93 108.25 L318.90 108.48 L319.88 108.71 L320.86 108.94 L321.84 109.17 L322.81 109.39 L323.79 109.62 L324.77 109.84 L325.75 110.06 L326.73 110.28 L327.71 110.50 L328.69 110.72 L329.66 110.94 L330.64 111.16 L331.62 111.38 L332.60 111.59 L333.58 111.81 L334.56 112.03 L335.54 112.24 L336.52 112.46 L337.49 112.67 L338.47 112.89 L339.45 113.11 L340.43 113.32 L341.41 113.54 L342.39 113.76 L343.36 113.97 L344.34 114.19 L345.32 114.41 L346.30 114.63 L347.27 114.85 L348.25 115.07 L349.23 115.29 L350.20 115.51 L351.18 115.73 L352.15 115.96 L353.13 116.18 L354.11 116.41 L355.08 116.64 L356.05 116.87 L357.03 117.10 L358.00 117.33 L358.98 117.56 L359.95 117.80 L360.92 118.04 L361.89 118.27 L362.86 118.52 L363.84 118.76 L364.81 119.00 L365.78 119.25 L366.75 119.50 L367.71 119.75 L368.68 120.01 L369.65 120.26 L370.62 120.52 L371.58 120.78 L372.55 121.05 L373.52 121.32 L374.48 121.59 L375.45 121.86 L376.41 122.14 L377.37 122.41 L378.33 122.70 L379.30 122.98 L380.26 123.27 L381.22 123.56 L382.18 123.86 L383.14 124.16 L384.09 124.46 L385.05 124.77 L386.01 125.08 L386.96 125.39 L387.92 125.71 L388.87 126.03 L389.82 126.36 L390.77 126.69 L391.73 127.03 L392.68 127.37 L393.62 127.71 L394.57 128.06 L395.52 128.41 L396.47 128.77 L397.41 129.13 L398.36 129.50 L399.30 129.87 L400.24 130.24 L401.18 130.63 L402.12 131.01 L403.06 131.40 L404.00 131.80 L404.00 127.90 L403.02 127.66 L402.05 127.41 L401.08 127.16 L400.10 126.91 L399.13 126.66 L398.16 126.40 L397.19 126.14 L396.22 125.88 L395.25 125.61 L394.28 125.34 L393.32 125.07 L392.35 124.80 L391.39 124.52 L390.42 124.24 L389.46 123.96 L388.50 123.67 L387.53 123.38 L386.57 123.09 L385.61 122.80 L384.65 122.51 L383.69 122.21 L382.73 121.91 L381.78 121.61 L380.82 121.30 L379.86 121.00 L378.91 120.69 L377.95 120.38 L377.00 120.07 L376.04 119.75 L375.09 119.44 L374.14 119.12 L373.18 118.80 L372.23 118.48 L371.28 118.16 L370.33 117.83 L369.38 117.51 L368.43 117.18 L367.48 116.85 L366.53 116.52 L365.58 116.19 L364.63 115.86 L363.68 115.52 L362.74 115.19 L361.79 114.85 L360.84 114.51 L359.90 114.18 L358.95 113.84 L358.00 113.50 L357.06 113.15 L356.11 112.81 L355.17 112.47 L354.22 112.12 L353.28 111.78 L352.33 111.43 L351.39 111.09 L350.44 110.74 L349.50 110.39 L348.56 110.05 L347.61 109.70 L346.67 109.35 L345.73 109.00 L344.78 108.65 L343.84 108.30 L342.90 107.96 L341.95 107.61 L341.01 107.26 L340.07 106.91 L339.12 106.56 L338.18 106.21 L337.24 105.86 L336.29 105.51 L335.35 105.16 L334.41 104.81 L333.47 104.46 L332.52 104.12 L331.58 103.77 L330.63 103.42 L329.69 103.08 L328.75 102.73 L327.80 102.38 L326.86 102.04 L325.91 101.70 L324.97 101.35 L324.03 101.01 L323.08 100.67 L322.14 100.33 L321.19 99.99 L320.24 99.65 L319.30 99.31 L318.35 98.98 L317.40 98.64 L316.46 98.31 L315.51 97.98 L314.56 97.64 L313.61 97.31 L312.67 96.99 L311.72 96.66 L310.77 96.33 L309.82 96.01 L308.87 95.69 L307.92 95.37 L306.97 95.05 L306.01 94.73 L305.06 94.42 L304.11 94.10 L303.16 93.79 L302.20 93.48 L301.25 93.17 L300.29 92.87 L299.34 92.56 L298.38 92.26 L297.43 91.96 L296.47 91.67 L295.51 91.37 L294.55 91.08 L293.59 90.79 L292.63 90.50 L291.67 90.22 L290.71 89.94 L289.75 89.66 L288.79 89.38 L287.82 89.11 L286.86 88.84 L285.89 88.57 L284.93 88.30 L283.96 88.04 L282.99 87.78 L282.02 87.52 L281.05 87.27 L280.08 87.02 L279.11 86.77 L278.14 86.53 L277.17 86.28 L276.19 86.05 L275.22 85.81 L274.24 85.58 L273.26 85.35 L272.29 85.13 L271.31 84.91 L270.33 84.69 L269.35 84.48 L268.37 84.27 L267.38 84.06 L266.40 83.86 L265.41 83.66 L264.43 83.47 L263.44 83.28 L262.45 83.09 L261.46 82.91 L260.47 82.73 L259.48 82.56 L258.48 82.39 L257.49 82.23 L256.49 82.07 L255.50 81.91 L254.50 81.76 L253.50 81.62 L252.51 81.48 L251.51 81.35 L250.51 81.23 L249.51 81.11 L248.51 81.00 L247.51 80.90 L246.51 80.81 L245.51 80.72 L244.51 80.64 L243.51 80.58 L242.51 80.52 L241.51 80.47 L240.51 80.43 L239.51 80.41 L238.52 80.39 L237.52 80.38 L236.52 80.39 L235.53 80.40 L234.54 80.43 L233.54 80.47 L232.55 80.53 L231.56 80.59 L230.57 80.67 L229.59 80.76 L228.60 80.87 L227.62 80.99 L226.63 81.12 L225.65 81.27 L224.68 81.44 L223.70 81.62 L222.72 81.81 L221.75 82.03 L220.78 82.25 L219.82 82.50 L218.85 82.76 L217.89 83.04 L216.93 83.33 L215.97 83.64 L215.02 83.97 L214.07 84.31 L213.13 84.66 L212.19 85.03 L211.25 85.41 L210.32 85.81 L209.39 86.22 L208.47 86.65 L207.56 87.08 L206.65 87.53 L205.74 87.99 L204.85 88.46 L203.95 88.95 L203.07 89.44 L202.19 89.95 L201.32 90.47 L200.46 90.99 L199.60 91.53 L198.75 92.07 L197.91 92.63 L197.08 93.19 L196.26 93.76 L195.44 94.34 L194.64 94.93 L193.84 95.53 L193.05 96.13 L192.27 96.74 L191.49 97.36 L190.72 97.98 L189.96 98.61 L189.21 99.25 L188.46 99.90 L187.71 100.55 L186.97 101.21 L186.24 101.87 L185.51 102.54 L184.78 103.21 L184.06 103.89 L183.34 104.58 L182.62 105.27 L181.91 105.97 L181.21 106.67 L180.51 107.38 L179.81 108.09 L179.12 108.81 L178.43 109.53 L177.74 110.26 L177.06 111.00 L176.39 111.73 L175.72 112.48 L175.05 113.23 L174.39 113.98 L173.73 114.74 L173.08 115.50 L172.43 116.27 L171.79 117.04 L171.16 117.82 L170.52 118.60 L169.90 119.38 L169.27 120.17 L168.66 120.97 L168.04 121.77 L167.44 122.57 L166.84 123.38 L166.24 124.19 L165.65 125.01 L165.06 125.83 L164.48 126.65 L163.91 127.48 L163.34 128.31 L162.78 129.15 L162.22 129.99 L161.67 130.83 L161.12 131.68 L160.58 132.53 L160.05 133.38 L159.52 134.24 L159.00 135.10 L158.48 135.97 L157.97 136.84 L157.47 137.71 L156.97 138.58 L156.47 139.46 L155.98 140.34 L155.49 141.22 L155.01 142.10 L154.53 142.99 L154.06 143.87 L153.59 144.76 L153.13 145.65 L152.66 146.54 L152.21 147.43 L151.75 148.33 L151.30 149.22 L150.85 150.12 L150.40 151.01 L149.96 151.90 L149.52 152.80 L149.08 153.69 L148.64 154.59 L148.21 155.48 L147.77 156.37 L147.34 157.26 L146.91 158.16 L146.47 159.05 L146.04 159.93 L145.60 160.82 L145.17 161.71 L144.73 162.59 L144.29 163.48 L143.84 164.36 L143.40 165.24 L142.95 166.12 L142.49 167.00 L142.03 167.87 L141.56 168.74 L141.09 169.61 L140.61 170.48 L140.13 171.35 L139.63 172.21 L139.13 173.07 L138.63 173.93 L138.11 174.78 L137.58 175.63 L137.04 176.48 L136.50 177.33 L135.94 178.17 L135.38 179.01 L134.80 179.84 L134.22 180.67 L133.63 181.49 L133.02 182.31 L132.41 183.12 L131.79 183.93 L131.16 184.73 L130.52 185.52 L129.88 186.31 L129.22 187.09 L128.56 187.86 L127.88 188.62 L127.20 189.38 L126.51 190.12 L125.81 190.86 L125.11 191.59 L124.39 192.31 L123.67 193.02 L122.94 193.71 L122.20 194.40 L121.46 195.08 L120.70 195.74 L119.94 196.40 L119.18 197.04 L118.40 197.67 L117.62 198.28 L116.83 198.89 L116.03 199.48 L115.23 200.05 L114.42 200.61 L113.60 201.16 L112.77 201.70 L111.94 202.21 L111.10 202.72 L110.25 203.20 L109.39 203.67 L108.51 204.12 L107.62 204.56 L106.72 204.97 L105.81 205.37 L104.89 205.76 L103.95 206.14 L103.02 206.51 L102.09 206.88 L101.16 207.25 L100.23 207.64 L99.32 208.04 L98.42 208.45 L97.54 208.88 L96.69 209.35 L95.85 209.84 L95.05 210.36 L94.28 210.93 L93.54 211.54 L92.84 212.19 L92.16 212.87 L91.52 213.59 L90.90 214.34 L90.31 215.12 L89.74 215.93 L89.19 216.77 L88.67 217.62 L88.16 218.50 L87.66 219.39 L87.18 220.29 L86.71 221.21 L86.25 222.13 L85.80 223.07 L85.36 224.00 L84.92 224.94 L84.48 225.88 L84.04 226.81 L83.60 227.73 L83.15 228.65 L82.70 229.55 L82.24 230.44 L81.77 231.32 L81.29 232.17 L80.80 233.00 Z"/></clipPath>
<clipPath id="lg"><rect x="265.3" y="154.6" width="17.5" height="12.6"/></clipPath>
<clipPath id="lb"><rect x="265.3" y="175.7" width="17.5" height="12.7"/></clipPath>
<clipPath id="lr"><rect x="265.3" y="197.1" width="17.5" height="12.9"/></clipPath>
</defs>
<g clip-path="url(#frame)">
<g clip-path="url(#cg)"><path d="M83.45 10.30 L83.45 252.60 M87.36 10.30 L87.36 252.60 M91.26 10.30 L91.26 252.60 M95.17 10.30 L95.17 252.60 M99.07 10.30 L99.07 252.60 M102.98 10.30 L102.98 252.60 M106.88 10.30 L106.88 252.60 M110.79 10.30 L110.79 252.60 M114.69 10.30 L114.69 252.60 M118.60 10.30 L118.60 252.60 M122.50 10.30 L122.50 252.60 M126.41 10.30 L126.41 252.60 M130.31 10.30 L130.31 252.60 M134.22 10.30 L134.22 252.60 M138.12 10.30 L138.12 252.60 M142.03 10.30 L142.03 252.60 M145.93 10.30 L145.93 252.60 M149.84 10.30 L149.84 252.60 M153.74 10.30 L153.74 252.60 M157.65 10.30 L157.65 252.60 M161.55 10.30 L161.55 252.60 M165.46 10.30 L165.46 252.60 M169.36 10.30 L169.36 252.60 M173.27 10.30 L173.27 252.60 M177.17 10.30 L177.17 252.60 M181.08 10.30 L181.08 252.60 M184.98 10.30 L184.98 252.60 M188.89 10.30 L188.89 252.60 M192.79 10.30 L192.79 252.60 M196.70 10.30 L196.70 252.60 M200.60 10.30 L200.60 252.60 M204.51 10.30 L204.51 252.60 M208.41 10.30 L208.41 252.60 M212.32 10.30 L212.32 252.60 M216.22 10.30 L216.22 252.60 M220.13 10.30 L220.13 252.60 M224.03 10.30 L224.03 252.60 M227.94 10.30 L227.94 252.60 M231.84 10.30 L231.84 252.60 M235.75 10.30 L235.75 252.60 M239.65 10.30 L239.65 252.60 M243.56 10.30 L243.56 252.60 M247.46 10.30 L247.46 252.60 M251.37 10.30 L251.37 252.60 M255.27 10.30 L255.27 252.60 M259.18 10.30 L259.18 252.60 M263.08 10.30 L263.08 252.60 M266.98 10.30 L266.98 252.60 M270.89 10.30 L270.89 252.60 M274.79 10.30 L274.79 252.60 M278.70 10.30 L278.70 252.60 M282.60 10.30 L282.60 252.60 M286.51 10.30 L286.51 252.60 M290.41 10.30 L290.41 252.60 M294.32 10.30 L294.32 252.60 M298.22 10.30 L298.22 252.60 M302.13 10.30 L302.13 252.60 M306.03 10.30 L306.03 252.60 M309.94 10.30 L309.94 252.60 M313.84 10.30 L313.84 252.60 M317.75 10.30 L317.75 252.60 M321.65 10.30 L321.65 252.60 M325.56 10.30 L325.56 252.60 M329.46 10.30 L329.46 252.60 M333.37 10.30 L333.37 252.60 M337.27 10.30 L337.27 252.60 M341.18 10.30 L341.18 252.60 M345.08 10.30 L345.08 252.60 M348.99 10.30 L348.99 252.60 M352.89 10.30 L352.89 252.60 M356.80 10.30 L356.80 252.60 M360.70 10.30 L360.70 252.60 M364.61 10.30 L364.61 252.60 M368.51 10.30 L368.51 252.60 M372.42 10.30 L372.42 252.60 M376.32 10.30 L376.32 252.60 M380.23 10.30 L380.23 252.60 M384.13 10.30 L384.13 252.60 M388.04 10.30 L388.04 252.60 M391.94 10.30 L391.94 252.60 M395.85 10.30 L395.85 252.60 M399.75 10.30 L399.75 252.60 M403.66 10.30 L403.66 252.60" stroke="#076807" stroke-width="1.0" fill="none"/></g>
<g clip-path="url(#cr)"><path d="M-207.74 284.08 L368.03 -312.15 M-204.90 286.82 L370.87 -309.41 M-202.06 289.56 L373.71 -306.66 M-199.22 292.31 L376.55 -303.92 M-196.38 295.05 L379.39 -301.17 M-193.53 297.80 L382.24 -298.43 M-190.69 300.54 L385.08 -295.69 M-187.85 303.28 L387.92 -292.94 M-185.01 306.03 L390.76 -290.20 M-182.17 308.77 L393.60 -287.46 M-179.33 311.52 L396.44 -284.71 M-176.49 314.26 L399.28 -281.97 M-173.64 317.00 L402.13 -279.22 M-170.80 319.75 L404.97 -276.48 M-167.96 322.49 L407.81 -273.74 M-165.12 325.24 L410.65 -270.99 M-162.28 327.98 L413.49 -268.25 M-159.44 330.72 L416.33 -265.50 M-156.60 333.47 L419.17 -262.76 M-153.75 336.21 L422.02 -260.02 M-150.91 338.95 L424.86 -257.27 M-148.07 341.70 L427.70 -254.53 M-145.23 344.44 L430.54 -251.78 M-142.39 347.19 L433.38 -249.04 M-139.55 349.93 L436.22 -246.30 M-136.71 352.67 L439.06 -243.55 M-133.86 355.42 L441.91 -240.81 M-131.02 358.16 L444.75 -238.07 M-128.18 360.91 L447.59 -235.32 M-125.34 363.65 L450.43 -232.58 M-122.50 366.39 L453.27 -229.83 M-119.66 369.14 L456.11 -227.09 M-116.82 371.88 L458.95 -224.35 M-113.98 374.63 L461.79 -221.60 M-111.13 377.37 L464.64 -218.86 M-108.29 380.11 L467.48 -216.11 M-105.45 382.86 L470.32 -213.37 M-102.61 385.60 L473.16 -210.63 M-99.77 388.35 L476.00 -207.88 M-96.93 391.09 L478.84 -205.14 M-94.09 393.83 L481.68 -202.39 M-91.24 396.58 L484.53 -199.65 M-88.40 399.32 L487.37 -196.91 M-85.56 402.06 L490.21 -194.16 M-82.72 404.81 L493.05 -191.42 M-79.88 407.55 L495.89 -188.67 M-77.04 410.30 L498.73 -185.93 M-74.20 413.04 L501.57 -183.19 M-71.35 415.78 L504.42 -180.44 M-68.51 418.53 L507.26 -177.70 M-65.67 421.27 L510.10 -174.96 M-62.83 424.02 L512.94 -172.21 M-59.99 426.76 L515.78 -169.47 M-57.15 429.50 L518.62 -166.72 M-54.31 432.25 L521.46 -163.98 M-51.46 434.99 L524.31 -161.24 M-48.62 437.74 L527.15 -158.49 M-45.78 440.48 L529.99 -155.75 M-42.94 443.22 L532.83 -153.00 M-40.10 445.97 L535.67 -150.26 M-37.26 448.71 L538.51 -147.52 M-34.42 451.45 L541.35 -144.77 M-31.57 454.20 L544.20 -142.03 M-28.73 456.94 L547.04 -139.28 M-25.89 459.69 L549.88 -136.54 M-23.05 462.43 L552.72 -133.80 M-20.21 465.17 L555.56 -131.05 M-17.37 467.92 L558.40 -128.31 M-14.53 470.66 L561.24 -125.57 M-11.68 473.41 L564.09 -122.82 M-8.84 476.15 L566.93 -120.08 M-6.00 478.89 L569.77 -117.33 M-3.16 481.64 L572.61 -114.59 M-0.32 484.38 L575.45 -111.85 M2.52 487.13 L578.29 -109.10 M5.36 489.87 L581.13 -106.36 M8.20 492.61 L583.97 -103.61 M11.05 495.36 L586.82 -100.87 M13.89 498.10 L589.66 -98.13 M16.73 500.85 L592.50 -95.38 M19.57 503.59 L595.34 -92.64 M22.41 506.33 L598.18 -89.89 M25.25 509.08 L601.02 -87.15 M28.09 511.82 L603.86 -84.41 M30.94 514.56 L606.71 -81.66 M33.78 517.31 L609.55 -78.92 M36.62 520.05 L612.39 -76.18 M39.46 522.80 L615.23 -73.43 M42.30 525.54 L618.07 -70.69 M45.14 528.28 L620.91 -67.94 M47.98 531.03 L623.75 -65.20 M50.83 533.77 L626.60 -62.46 M53.67 536.52 L629.44 -59.71 M56.51 539.26 L632.28 -56.97 M59.35 542.00 L635.12 -54.22 M62.19 544.75 L637.96 -51.48 M65.03 547.49 L640.80 -48.74 M67.87 550.24 L643.64 -45.99 M70.72 552.98 L646.49 -43.25 M73.56 555.72 L649.33 -40.50 M76.40 558.47 L652.17 -37.76 M79.24 561.21 L655.01 -35.02 M82.08 563.95 L657.85 -32.27 M84.92 566.70 L660.69 -29.53 M87.76 569.44 L663.53 -26.78 M90.61 572.19 L666.38 -24.04 M93.45 574.93 L669.22 -21.30" stroke="#ff0000" stroke-width="0.85" fill="none"/></g>
<g clip-path="url(#cb)"><path d="M109.03 -316.57 L663.64 299.39 M106.09 -313.93 L660.70 302.03 M103.16 -311.28 L657.77 304.67 M100.22 -308.64 L654.83 307.32 M97.29 -306.00 L651.90 309.96 M94.35 -303.36 L648.96 312.60 M91.41 -300.71 L646.03 315.25 M88.48 -298.07 L643.09 317.89 M85.54 -295.43 L640.15 320.53 M82.61 -292.78 L637.22 323.17 M79.67 -290.14 L634.28 325.82 M76.74 -287.50 L631.35 328.46 M73.80 -284.85 L628.41 331.10 M70.87 -282.21 L625.48 333.75 M67.93 -279.57 L622.54 336.39 M65.00 -276.93 L619.61 339.03 M62.06 -274.28 L616.67 341.68 M59.12 -271.64 L613.74 344.32 M56.19 -269.00 L610.80 346.96 M53.25 -266.35 L607.86 349.61 M50.32 -263.71 L604.93 352.25 M47.38 -261.07 L601.99 354.89 M44.45 -258.42 L599.06 357.53 M41.51 -255.78 L596.12 360.18 M38.58 -253.14 L593.19 362.82 M35.64 -250.49 L590.25 365.46 M32.71 -247.85 L587.32 368.11 M29.77 -245.21 L584.38 370.75 M26.83 -242.57 L581.45 373.39 M23.90 -239.92 L578.51 376.04 M20.96 -237.28 L575.58 378.68 M18.03 -234.64 L572.64 381.32 M15.09 -231.99 L569.70 383.97 M12.16 -229.35 L566.77 386.61 M9.22 -226.71 L563.83 389.25 M6.29 -224.06 L560.90 391.89 M3.35 -221.42 L557.96 394.54 M0.42 -218.78 L555.03 397.18 M-2.52 -216.13 L552.09 399.82 M-5.45 -213.49 L549.16 402.47 M-8.39 -210.85 L546.22 405.11 M-11.33 -208.21 L543.29 407.75 M-14.26 -205.56 L540.35 410.40 M-17.20 -202.92 L537.41 413.04 M-20.13 -200.28 L534.48 415.68 M-23.07 -197.63 L531.54 418.33 M-26.00 -194.99 L528.61 420.97 M-28.94 -192.35 L525.67 423.61 M-31.87 -189.70 L522.74 426.25 M-34.81 -187.06 L519.80 428.90 M-37.74 -184.42 L516.87 431.54 M-40.68 -181.77 L513.93 434.18 M-43.62 -179.13 L511.00 436.83 M-46.55 -176.49 L508.06 439.47 M-49.49 -173.85 L505.13 442.11 M-52.42 -171.20 L502.19 444.76 M-55.36 -168.56 L499.25 447.40 M-58.29 -165.92 L496.32 450.04 M-61.23 -163.27 L493.38 452.68 M-64.16 -160.63 L490.45 455.33 M-67.10 -157.99 L487.51 457.97 M-70.03 -155.34 L484.58 460.61 M-72.97 -152.70 L481.64 463.26 M-75.90 -150.06 L478.71 465.90 M-78.84 -147.41 L475.77 468.54 M-81.78 -144.77 L472.84 471.19 M-84.71 -142.13 L469.90 473.83 M-87.65 -139.49 L466.96 476.47 M-90.58 -136.84 L464.03 479.12 M-93.52 -134.20 L461.09 481.76 M-96.45 -131.56 L458.16 484.40 M-99.39 -128.91 L455.22 487.04 M-102.32 -126.27 L452.29 489.69 M-105.26 -123.63 L449.35 492.33 M-108.19 -120.98 L446.42 494.97 M-111.13 -118.34 L443.48 497.62 M-114.07 -115.70 L440.55 500.26 M-117.00 -113.05 L437.61 502.90 M-119.94 -110.41 L434.68 505.55 M-122.87 -107.77 L431.74 508.19 M-125.81 -105.13 L428.80 510.83 M-128.74 -102.48 L425.87 513.48 M-131.68 -99.84 L422.93 516.12 M-134.61 -97.20 L420.00 518.76 M-137.55 -94.55 L417.06 521.40 M-140.48 -91.91 L414.13 524.05 M-143.42 -89.27 L411.19 526.69 M-146.36 -86.62 L408.26 529.33 M-149.29 -83.98 L405.32 531.98 M-152.23 -81.34 L402.39 534.62 M-155.16 -78.70 L399.45 537.26 M-158.10 -76.05 L396.51 539.91 M-161.03 -73.41 L393.58 542.55 M-163.97 -70.77 L390.64 545.19 M-166.90 -68.12 L387.71 547.84 M-169.84 -65.48 L384.77 550.48 M-172.77 -62.84 L381.84 553.12 M-175.71 -60.19 L378.90 555.76 M-178.64 -57.55 L375.97 558.41 M-181.58 -54.91 L373.03 561.05 M-184.52 -52.26 L370.10 563.69 M-187.45 -49.62 L367.16 566.34 M-190.39 -46.98 L364.22 568.98 M-193.32 -44.34 L361.29 571.62 M-196.26 -41.69 L358.35 574.27 M-199.19 -39.05 L355.42 576.91 M-202.13 -36.41 L352.48 579.55" stroke="#0000ff" stroke-width="1.05" fill="none"/></g>
<path d="M80.80 206.00 L81.99 206.32 L83.14 206.55 L84.25 206.70 L85.33 206.78 L86.37 206.78 L87.39 206.72 L88.37 206.58 L89.32 206.39 L90.25 206.13 L91.15 205.82 L92.02 205.46 L92.87 205.05 L93.70 204.59 L94.51 204.09 L95.30 203.55 L96.07 202.98 L96.83 202.37 L97.57 201.74 L98.31 201.09 L99.04 200.43 L99.77 199.75 L100.49 199.07 L101.22 198.39 L101.95 197.70 L102.68 197.02 L103.41 196.34 L104.15 195.66 L104.89 194.98 L105.63 194.30 L106.37 193.61 L107.11 192.93 L107.85 192.25 L108.59 191.57 L109.33 190.88 L110.07 190.20 L110.81 189.51 L111.55 188.82 L112.29 188.13 L113.03 187.44 L113.77 186.75 L114.50 186.06 L115.23 185.36 L115.97 184.66 L116.69 183.96 L117.42 183.26 L118.14 182.55 L118.86 181.84 L119.57 181.13 L120.29 180.41 L120.99 179.70 L121.70 178.97 L122.40 178.25 L123.09 177.52 L123.78 176.78 L124.46 176.04 L125.14 175.30 L125.81 174.55 L126.48 173.80 L127.14 173.05 L127.79 172.29 L128.44 171.52 L129.08 170.75 L129.72 169.98 L130.35 169.20 L130.97 168.41 L131.60 167.63 L132.21 166.84 L132.82 166.04 L133.43 165.25 L134.03 164.45 L134.63 163.64 L135.22 162.83 L135.81 162.02 L136.40 161.21 L136.98 160.39 L137.56 159.57 L138.13 158.75 L138.70 157.93 L139.27 157.10 L139.83 156.27 L140.39 155.44 L140.95 154.60 L141.51 153.77 L142.06 152.93 L142.61 152.09 L143.16 151.25 L143.71 150.40 L144.25 149.56 L144.80 148.71 L145.34 147.86 L145.88 147.01 L146.41 146.16 L146.95 145.31 L147.49 144.46 L148.02 143.61 L148.56 142.75 L149.09 141.90 L149.62 141.05 L150.16 140.19 L150.69 139.34 L151.22 138.48 L151.75 137.62 L152.28 136.77 L152.82 135.91 L153.35 135.06 L153.88 134.21 L154.42 133.35 L154.95 132.50 L155.49 131.65 L156.03 130.79 L156.57 129.94 L157.11 129.09 L157.65 128.25 L158.19 127.40 L158.74 126.55 L159.29 125.71 L159.84 124.87 L160.39 124.02 L160.94 123.19 L161.50 122.35 L162.06 121.51 L162.62 120.68 L163.19 119.85 L163.76 119.02 L164.33 118.19 L164.91 117.37 L165.48 116.55 L166.07 115.73 L166.66 114.92 L167.25 114.11 L167.84 113.30 L168.44 112.49 L169.05 111.69 L169.65 110.89 L170.27 110.09 L170.89 109.30 L171.51 108.51 L172.14 107.73 L172.77 106.95 L173.41 106.17 L174.06 105.40 L174.71 104.63 L175.36 103.87 L176.03 103.11 L176.69 102.36 L177.37 101.62 L178.05 100.88 L178.74 100.15 L179.44 99.42 L180.14 98.71 L180.85 98.00 L181.56 97.31 L182.29 96.62 L183.02 95.95 L183.76 95.29 L184.51 94.63 L185.26 94.00 L186.03 93.37 L186.80 92.76 L187.58 92.16 L188.37 91.58 L189.17 91.02 L189.98 90.47 L190.79 89.93 L191.62 89.42 L192.46 88.92 L193.30 88.44 L194.16 87.98 L195.02 87.54 L195.90 87.12 L196.79 86.72 L197.68 86.34 L198.59 85.98 L199.51 85.65 L200.44 85.34 L201.38 85.05 L202.33 84.79 L203.29 84.55 L204.27 84.33 L205.25 84.15 L206.25 83.98 L207.25 83.84 L208.27 83.72 L209.29 83.62 L210.32 83.54 L211.35 83.48 L212.39 83.43 L213.43 83.41 L214.48 83.40 L215.53 83.40 L216.59 83.42 L217.64 83.46 L218.70 83.50 L219.76 83.56 L220.81 83.63 L221.86 83.71 L222.92 83.80 L223.96 83.89 L225.01 83.99 L226.05 84.10 L227.08 84.22 L228.11 84.33 L229.13 84.46 L230.15 84.58 L231.15 84.71 L232.15 84.84 L233.14 84.97 L234.13 85.10 L235.11 85.24 L236.08 85.38 L237.05 85.53 L238.02 85.68 L238.98 85.84 L239.94 86.01 L240.90 86.17 L241.86 86.35 L242.81 86.53 L243.77 86.72 L244.72 86.92 L245.68 87.12 L246.63 87.33 L247.59 87.55 L248.54 87.77 L249.50 88.00 L250.45 88.23 L251.41 88.48 L252.36 88.72 L253.31 88.98 L254.27 89.23 L255.22 89.50 L256.18 89.76 L257.13 90.04 L258.09 90.31 L259.04 90.59 L260.00 90.88 L260.95 91.17 L261.91 91.46 L262.86 91.76 L263.82 92.05 L264.78 92.36 L265.73 92.66 L266.69 92.97 L267.64 93.28 L268.60 93.59 L269.56 93.90 L270.51 94.22 L271.47 94.54 L272.43 94.85 L273.39 95.17 L274.35 95.49 L275.30 95.82 L276.26 96.14 L277.22 96.46 L278.18 96.78 L279.14 97.10 L280.10 97.43 L281.06 97.75 L282.03 98.07 L282.99 98.39 L283.95 98.71 L284.91 99.02 L285.88 99.34 L286.84 99.65 L287.80 99.96 L288.77 100.27 L289.73 100.58 L290.70 100.89 L291.66 101.19 L292.63 101.49 L293.60 101.78 L294.57 102.08 L295.53 102.36 L296.50 102.65 L297.47 102.93 L298.44 103.21 L299.41 103.49 L300.38 103.76 L301.35 104.03 L302.33 104.30 L303.30 104.56 L304.27 104.83 L305.24 105.09 L306.22 105.34 L307.19 105.60 L308.17 105.85 L309.14 106.10 L310.12 106.35 L311.09 106.59 L312.07 106.83 L313.04 107.07 L314.02 107.31 L315.00 107.55 L315.97 107.79 L316.95 108.02 L317.93 108.25 L318.90 108.48 L319.88 108.71 L320.86 108.94 L321.84 109.17 L322.81 109.39 L323.79 109.62 L324.77 109.84 L325.75 110.06 L326.73 110.28 L327.71 110.50 L328.69 110.72 L329.66 110.94 L330.64 111.16 L331.62 111.38 L332.60 111.59 L333.58 111.81 L334.56 112.03 L335.54 112.24 L336.52 112.46 L337.49 112.67 L338.47 112.89 L339.45 113.11 L340.43 113.32 L341.41 113.54 L342.39 113.76 L343.36 113.97 L344.34 114.19 L345.32 114.41 L346.30 114.63 L347.27 114.85 L348.25 115.07 L349.23 115.29 L350.20 115.51 L351.18 115.73 L352.15 115.96 L353.13 116.18 L354.11 116.41 L355.08 116.64 L356.05 116.87 L357.03 117.10 L358.00 117.33 L358.98 117.56 L359.95 117.80 L360.92 118.04 L361.89 118.27 L362.86 118.52 L363.84 118.76 L364.81 119.00 L365.78 119.25 L366.75 119.50 L367.71 119.75 L368.68 120.01 L369.65 120.26 L370.62 120.52 L371.58 120.78 L372.55 121.05 L373.52 121.32 L374.48 121.59 L375.45 121.86 L376.41 122.14 L377.37 122.41 L378.33 122.70 L379.30 122.98 L380.26 123.27 L381.22 123.56 L382.18 123.86 L383.14 124.16 L384.09 124.46 L385.05 124.77 L386.01 125.08 L386.96 125.39 L387.92 125.71 L388.87 126.03 L389.82 126.36 L390.77 126.69 L391.73 127.03 L392.68 127.37 L393.62 127.71 L394.57 128.06 L395.52 128.41 L396.47 128.77 L397.41 129.13 L398.36 129.50 L399.30 129.87 L400.24 130.24 L401.18 130.63 L402.12 131.01 L403.06 131.40 L404.00 131.80" stroke="#ff0000" stroke-width="1.5" fill="none" stroke-linejoin="round"/>
<path d="M80.80 233.00 L81.29 232.17 L81.77 231.32 L82.24 230.44 L82.70 229.55 L83.15 228.65 L83.60 227.73 L84.04 226.81 L84.48 225.88 L84.92 224.94 L85.36 224.00 L85.80 223.07 L86.25 222.13 L86.71 221.21 L87.18 220.29 L87.66 219.39 L88.16 218.50 L88.67 217.62 L89.19 216.77 L89.74 215.93 L90.31 215.12 L90.90 214.34 L91.52 213.59 L92.16 212.87 L92.84 212.19 L93.54 211.54 L94.28 210.93 L95.05 210.36 L95.85 209.84 L96.69 209.35 L97.54 208.88 L98.42 208.45 L99.32 208.04 L100.23 207.64 L101.16 207.25 L102.09 206.88 L103.02 206.51 L103.95 206.14 L104.89 205.76 L105.81 205.37 L106.72 204.97 L107.62 204.56 L108.51 204.12 L109.39 203.67 L110.25 203.20 L111.10 202.72 L111.94 202.21 L112.77 201.70 L113.60 201.16 L114.42 200.61 L115.23 200.05 L116.03 199.48 L116.83 198.89 L117.62 198.28 L118.40 197.67 L119.18 197.04 L119.94 196.40 L120.70 195.74 L121.46 195.08 L122.20 194.40 L122.94 193.71 L123.67 193.02 L124.39 192.31 L125.11 191.59 L125.81 190.86 L126.51 190.12 L127.20 189.38 L127.88 188.62 L128.56 187.86 L129.22 187.09 L129.88 186.31 L130.52 185.52 L131.16 184.73 L131.79 183.93 L132.41 183.12 L133.02 182.31 L133.63 181.49 L134.22 180.67 L134.80 179.84 L135.38 179.01 L135.94 178.17 L136.50 177.33 L137.04 176.48 L137.58 175.63 L138.11 174.78 L138.63 173.93 L139.13 173.07 L139.63 172.21 L140.13 171.35 L140.61 170.48 L141.09 169.61 L141.56 168.74 L142.03 167.87 L142.49 167.00 L142.95 166.12 L143.40 165.24 L143.84 164.36 L144.29 163.48 L144.73 162.59 L145.17 161.71 L145.60 160.82 L146.04 159.93 L146.47 159.05 L146.91 158.16 L147.34 157.26 L147.77 156.37 L148.21 155.48 L148.64 154.59 L149.08 153.69 L149.52 152.80 L149.96 151.90 L150.40 151.01 L150.85 150.12 L151.30 149.22 L151.75 148.33 L152.21 147.43 L152.66 146.54 L153.13 145.65 L153.59 144.76 L154.06 143.87 L154.53 142.99 L155.01 142.10 L155.49 141.22 L155.98 140.34 L156.47 139.46 L156.97 138.58 L157.47 137.71 L157.97 136.84 L158.48 135.97 L159.00 135.10 L159.52 134.24 L160.05 133.38 L160.58 132.53 L161.12 131.68 L161.67 130.83 L162.22 129.99 L162.78 129.15 L163.34 128.31 L163.91 127.48 L164.48 126.65 L165.06 125.83 L165.65 125.01 L166.24 124.19 L166.84 123.38 L167.44 122.57 L168.04 121.77 L168.66 120.97 L169.27 120.17 L169.90 119.38 L170.52 118.60 L171.16 117.82 L171.79 117.04 L172.43 116.27 L173.08 115.50 L173.73 114.74 L174.39 113.98 L175.05 113.23 L175.72 112.48 L176.39 111.73 L177.06 111.00 L177.74 110.26 L178.43 109.53 L179.12 108.81 L179.81 108.09 L180.51 107.38 L181.21 106.67 L181.91 105.97 L182.62 105.27 L183.34 104.58 L184.06 103.89 L184.78 103.21 L185.51 102.54 L186.24 101.87 L186.97 101.21 L187.71 100.55 L188.46 99.90 L189.21 99.25 L189.96 98.61 L190.72 97.98 L191.49 97.36 L192.27 96.74 L193.05 96.13 L193.84 95.53 L194.64 94.93 L195.44 94.34 L196.26 93.76 L197.08 93.19 L197.91 92.63 L198.75 92.07 L199.60 91.53 L200.46 90.99 L201.32 90.47 L202.19 89.95 L203.07 89.44 L203.95 88.95 L204.85 88.46 L205.74 87.99 L206.65 87.53 L207.56 87.08 L208.47 86.65 L209.39 86.22 L210.32 85.81 L211.25 85.41 L212.19 85.03 L213.13 84.66 L214.07 84.31 L215.02 83.97 L215.97 83.64 L216.93 83.33 L217.89 83.04 L218.85 82.76 L219.82 82.50 L220.78 82.25 L221.75 82.03 L222.72 81.81 L223.70 81.62 L224.68 81.44 L225.65 81.27 L226.63 81.12 L227.62 80.99 L228.60 80.87 L229.59 80.76 L230.57 80.67 L231.56 80.59 L232.55 80.53 L233.54 80.47 L234.54 80.43 L235.53 80.40 L236.52 80.39 L237.52 80.38 L238.52 80.39 L239.51 80.41 L240.51 80.43 L241.51 80.47 L242.51 80.52 L243.51 80.58 L244.51 80.64 L245.51 80.72 L246.51 80.81 L247.51 80.90 L248.51 81.00 L249.51 81.11 L250.51 81.23 L251.51 81.35 L252.51 81.48 L253.50 81.62 L254.50 81.76 L255.50 81.91 L256.49 82.07 L257.49 82.23 L258.48 82.39 L259.48 82.56 L260.47 82.73 L261.46 82.91 L262.45 83.09 L263.44 83.28 L264.43 83.47 L265.41 83.66 L266.40 83.86 L267.38 84.06 L268.37 84.27 L269.35 84.48 L270.33 84.69 L271.31 84.91 L272.29 85.13 L273.26 85.35 L274.24 85.58 L275.22 85.81 L276.19 86.05 L277.17 86.28 L278.14 86.53 L279.11 86.77 L280.08 87.02 L281.05 87.27 L282.02 87.52 L282.99 87.78 L283.96 88.04 L284.93 88.30 L285.89 88.57 L286.86 88.84 L287.82 89.11 L288.79 89.38 L289.75 89.66 L290.71 89.94 L291.67 90.22 L292.63 90.50 L293.59 90.79 L294.55 91.08 L295.51 91.37 L296.47 91.67 L297.43 91.96 L298.38 92.26 L299.34 92.56 L300.29 92.87 L301.25 93.17 L302.20 93.48 L303.16 93.79 L304.11 94.10 L305.06 94.42 L306.01 94.73 L306.97 95.05 L307.92 95.37 L308.87 95.69 L309.82 96.01 L310.77 96.33 L311.72 96.66 L312.67 96.99 L313.61 97.31 L314.56 97.64 L315.51 97.98 L316.46 98.31 L317.40 98.64 L318.35 98.98 L319.30 99.31 L320.24 99.65 L321.19 99.99 L322.14 100.33 L323.08 100.67 L324.03 101.01 L324.97 101.35 L325.91 101.70 L326.86 102.04 L327.80 102.38 L328.75 102.73 L329.69 103.08 L330.63 103.42 L331.58 103.77 L332.52 104.12 L333.47 104.46 L334.41 104.81 L335.35 105.16 L336.29 105.51 L337.24 105.86 L338.18 106.21 L339.12 106.56 L340.07 106.91 L341.01 107.26 L341.95 107.61 L342.90 107.96 L343.84 108.30 L344.78 108.65 L345.73 109.00 L346.67 109.35 L347.61 109.70 L348.56 110.05 L349.50 110.39 L350.44 110.74 L351.39 111.09 L352.33 111.43 L353.28 111.78 L354.22 112.12 L355.17 112.47 L356.11 112.81 L357.06 113.15 L358.00 113.50 L358.95 113.84 L359.90 114.18 L360.84 114.51 L361.79 114.85 L362.74 115.19 L363.68 115.52 L364.63 115.86 L365.58 116.19 L366.53 116.52 L367.48 116.85 L368.43 117.18 L369.38 117.51 L370.33 117.83 L371.28 118.16 L372.23 118.48 L373.18 118.80 L374.14 119.12 L375.09 119.44 L376.04 119.75 L377.00 120.07 L377.95 120.38 L378.91 120.69 L379.86 121.00 L380.82 121.30 L381.78 121.61 L382.73 121.91 L383.69 122.21 L384.65 122.51 L385.61 122.80 L386.57 123.09 L387.53 123.38 L388.50 123.67 L389.46 123.96 L390.42 124.24 L391.39 124.52 L392.35 124.80 L393.32 125.07 L394.28 125.34 L395.25 125.61 L396.22 125.88 L397.19 126.14 L398.16 126.40 L399.13 126.66 L400.10 126.91 L401.08 127.16 L402.05 127.41 L403.02 127.66 L404.00 127.90" stroke="#ff0000" stroke-width="1.5" fill="none" stroke-linejoin="round"/>
<path d="M80.96 129.60 L81.12 130.54 L81.31 131.50 L81.53 132.49 L81.78 133.49 L82.06 134.50 L82.37 135.52 L82.71 136.54 L83.08 137.55 L83.49 138.56 L83.92 139.55 L84.38 140.52 L84.86 141.47 L85.38 142.39 L85.93 143.28 L86.51 144.13 L87.12 144.93 L87.75 145.69 L88.42 146.40 L89.11 147.05 L89.83 147.63 L90.58 148.16 L91.36 148.62 L92.16 149.01 L92.98 149.34 L93.82 149.60 L94.68 149.80 L95.55 149.93 L96.44 149.99 L97.34 149.98 L98.25 149.91 L99.17 149.78 L100.10 149.59 L101.03 149.35 L101.97 149.06 L102.91 148.73 L103.84 148.35 L104.77 147.94 L105.70 147.50 L106.62 147.02 L107.53 146.52 L108.43 146.00 L109.32 145.47 L110.20 144.91 L111.06 144.34 L111.91 143.76 L112.75 143.16 L113.58 142.55 L114.40 141.92 L115.21 141.29 L116.01 140.65 L116.80 139.99 L117.59 139.33 L118.36 138.66 L119.13 137.99 L119.89 137.30 L120.65 136.62 L121.40 135.93 L122.14 135.23 L122.88 134.54 L123.62 133.84 L124.35 133.14 L125.08 132.44 L125.80 131.74 L126.52 131.04 L127.24 130.34 L127.96 129.63 L128.67 128.93 L129.37 128.22 L130.08 127.52 L130.78 126.81 L131.48 126.11 L132.18 125.40 L132.87 124.69 L133.57 123.98 L134.26 123.27 L134.95 122.55 L135.64 121.84 L136.32 121.13 L137.01 120.41 L137.69 119.70 L138.37 118.98 L139.06 118.26 L139.74 117.54 L140.42 116.82 L141.10 116.10 L141.78 115.38 L142.46 114.66 L143.14 113.93 L143.82 113.21 L144.50 112.48 L145.18 111.75 L145.86 111.03 L146.54 110.30 L147.22 109.57 L147.90 108.83 L148.59 108.10 L149.27 107.37 L149.96 106.63 L150.65 105.90 L151.34 105.16 L152.03 104.42 L152.73 103.68 L153.42 102.94 L154.12 102.20 L154.83 101.47 L155.53 100.73 L156.24 100.00 L156.95 99.26 L157.67 98.54 L158.39 97.81 L159.11 97.09 L159.84 96.38 L160.57 95.67 L161.31 94.97 L162.06 94.27 L162.81 93.59 L163.56 92.91 L164.33 92.24 L165.09 91.58 L165.87 90.93 L166.65 90.29 L167.44 89.66 L168.24 89.04 L169.04 88.44 L169.85 87.85 L170.67 87.27 L171.50 86.71 L172.34 86.17 L173.18 85.63 L174.04 85.12 L174.90 84.62 L175.77 84.14 L176.66 83.68 L177.55 83.24 L178.45 82.81 L179.36 82.40 L180.27 82.02 L181.20 81.65 L182.13 81.30 L183.07 80.97 L184.01 80.66 L184.96 80.37 L185.92 80.10 L186.88 79.85 L187.84 79.63 L188.81 79.42 L189.79 79.24 L190.77 79.08 L191.75 78.93 L192.74 78.81 L193.73 78.71 L194.72 78.62 L195.71 78.55 L196.71 78.49 L197.71 78.45 L198.72 78.43 L199.72 78.41 L200.73 78.41 L201.74 78.41 L202.75 78.43 L203.76 78.46 L204.78 78.49 L205.79 78.53 L206.81 78.57 L207.82 78.62 L208.84 78.68 L209.86 78.73 L210.87 78.79 L211.89 78.85 L212.90 78.91 L213.92 78.96 L214.93 79.02 L215.95 79.07 L216.96 79.12 L217.97 79.17 L218.98 79.22 L219.99 79.26 L221.00 79.31 L222.00 79.35 L223.01 79.40 L224.02 79.44 L225.02 79.49 L226.03 79.54 L227.03 79.59 L228.03 79.64 L229.03 79.70 L230.04 79.76 L231.04 79.82 L232.04 79.88 L233.04 79.95 L234.03 80.03 L235.03 80.11 L236.03 80.19 L237.03 80.28 L238.02 80.38 L239.02 80.48 L240.02 80.58 L241.01 80.69 L242.00 80.81 L243.00 80.93 L243.99 81.05 L244.98 81.18 L245.97 81.32 L246.97 81.46 L247.96 81.60 L248.95 81.75 L249.93 81.91 L250.92 82.07 L251.91 82.23 L252.90 82.40 L253.88 82.57 L254.87 82.75 L255.85 82.93 L256.84 83.12 L257.82 83.31 L258.81 83.51 L259.79 83.70 L260.77 83.91 L261.75 84.12 L262.73 84.33 L263.71 84.54 L264.69 84.76 L265.67 84.99 L266.64 85.21 L267.62 85.45 L268.59 85.68 L269.57 85.92 L270.54 86.16 L271.52 86.41 L272.49 86.66 L273.46 86.92 L274.43 87.17 L275.40 87.43 L276.37 87.70 L277.34 87.97 L278.31 88.24 L279.27 88.51 L280.24 88.79 L281.20 89.07 L282.17 89.36 L283.13 89.65 L284.09 89.94 L285.06 90.23 L286.02 90.53 L286.98 90.83 L287.94 91.13 L288.90 91.44 L289.85 91.74 L290.81 92.05 L291.76 92.37 L292.72 92.69 L293.67 93.00 L294.63 93.33 L295.58 93.65 L296.53 93.98 L297.48 94.31 L298.43 94.64 L299.38 94.97 L300.33 95.31 L301.27 95.65 L302.22 95.99 L303.16 96.33 L304.11 96.67 L305.05 97.02 L306.00 97.37 L306.94 97.72 L307.88 98.07 L308.83 98.42 L309.77 98.78 L310.71 99.13 L311.65 99.49 L312.59 99.85 L313.53 100.21 L314.47 100.57 L315.40 100.93 L316.34 101.29 L317.28 101.66 L318.22 102.02 L319.16 102.39 L320.09 102.76 L321.03 103.12 L321.97 103.49 L322.90 103.86 L323.84 104.23 L324.77 104.60 L325.71 104.97 L326.64 105.34 L327.58 105.71 L328.51 106.08 L329.45 106.45 L330.38 106.82 L331.32 107.19 L332.25 107.56 L333.19 107.93 L334.12 108.30 L335.06 108.67 L335.99 109.04 L336.93 109.41 L337.86 109.78 L338.80 110.15 L339.74 110.52 L340.67 110.88 L341.61 111.25 L342.54 111.62 L343.48 111.98 L344.42 112.34 L345.35 112.71 L346.29 113.07 L347.23 113.43 L348.17 113.79 L349.11 114.15 L350.05 114.50 L350.99 114.86 L351.93 115.21 L352.87 115.56 L353.81 115.91 L354.75 116.26 L355.69 116.61 L356.63 116.95 L357.58 117.29 L358.52 117.64 L359.46 117.97 L360.41 118.31 L361.36 118.65 L362.30 118.98 L363.25 119.31 L364.20 119.64 L365.15 119.96 L366.10 120.28 L367.05 120.60 L368.00 120.92 L368.95 121.24 L369.90 121.55 L370.86 121.86 L371.81 122.16 L372.77 122.47 L373.72 122.77 L374.68 123.07 L375.64 123.36 L376.60 123.65 L377.56 123.94 L378.52 124.22 L379.49 124.50 L380.45 124.78 L381.42 125.05 L382.38 125.32 L383.35 125.59 L384.32 125.85 L385.29 126.11 L386.26 126.36 L387.24 126.61 L388.21 126.86 L389.19 127.10 L390.16 127.34 L391.14 127.58 L392.12 127.81 L393.10 128.03 L394.09 128.25 L395.07 128.47 L396.06 128.68 L397.04 128.89 L398.03 129.09 L399.02 129.29 L400.02 129.48 L401.01 129.67 L402.00 129.85 L403.00 130.03 L404.00 130.20" stroke="#0000ff" stroke-width="1.5" fill="none" stroke-linejoin="round"/>
<path d="M80.96 187.40 L81.43 186.70 L81.88 185.91 L82.31 185.05 L82.74 184.12 L83.17 183.14 L83.59 182.13 L84.03 181.09 L84.48 180.06 L84.95 179.03 L85.44 178.04 L85.96 177.08 L86.51 176.18 L87.11 175.34 L87.75 174.60 L88.44 173.95 L89.18 173.42 L89.98 173.00 L90.83 172.69 L91.72 172.46 L92.66 172.31 L93.62 172.22 L94.61 172.18 L95.62 172.18 L96.64 172.20 L97.67 172.23 L98.70 172.25 L99.73 172.26 L100.76 172.24 L101.76 172.17 L102.75 172.06 L103.72 171.89 L104.67 171.67 L105.60 171.41 L106.51 171.10 L107.40 170.75 L108.28 170.36 L109.14 169.93 L109.98 169.47 L110.81 168.97 L111.62 168.44 L112.41 167.87 L113.18 167.28 L113.94 166.67 L114.69 166.03 L115.42 165.37 L116.13 164.69 L116.83 163.99 L117.52 163.28 L118.19 162.55 L118.84 161.81 L119.49 161.06 L120.12 160.30 L120.74 159.53 L121.35 158.75 L121.96 157.96 L122.55 157.16 L123.14 156.35 L123.72 155.54 L124.30 154.72 L124.88 153.90 L125.45 153.08 L126.01 152.25 L126.58 151.41 L127.15 150.58 L127.71 149.75 L128.28 148.91 L128.85 148.08 L129.42 147.24 L129.99 146.41 L130.56 145.57 L131.13 144.74 L131.71 143.90 L132.29 143.07 L132.86 142.23 L133.44 141.40 L134.02 140.57 L134.61 139.74 L135.19 138.91 L135.78 138.08 L136.37 137.25 L136.96 136.43 L137.55 135.60 L138.15 134.78 L138.75 133.96 L139.35 133.14 L139.95 132.32 L140.56 131.51 L141.16 130.70 L141.77 129.89 L142.39 129.08 L143.00 128.28 L143.62 127.47 L144.25 126.68 L144.87 125.88 L145.50 125.09 L146.13 124.30 L146.77 123.51 L147.41 122.73 L148.05 121.96 L148.69 121.18 L149.34 120.41 L150.00 119.64 L150.65 118.88 L151.31 118.12 L151.98 117.37 L152.65 116.62 L153.32 115.88 L154.00 115.14 L154.68 114.41 L155.36 113.68 L156.05 112.95 L156.75 112.23 L157.44 111.52 L158.15 110.81 L158.86 110.11 L159.57 109.42 L160.29 108.73 L161.01 108.04 L161.74 107.36 L162.47 106.69 L163.21 106.03 L163.95 105.37 L164.70 104.72 L165.45 104.07 L166.21 103.43 L166.97 102.80 L167.74 102.18 L168.52 101.56 L169.30 100.95 L170.09 100.35 L170.88 99.76 L171.68 99.17 L172.48 98.60 L173.29 98.03 L174.11 97.46 L174.93 96.91 L175.76 96.37 L176.60 95.83 L177.44 95.30 L178.29 94.78 L179.15 94.27 L180.01 93.77 L180.88 93.28 L181.76 92.80 L182.64 92.32 L183.53 91.86 L184.43 91.41 L185.33 90.96 L186.24 90.53 L187.16 90.10 L188.09 89.69 L189.02 89.29 L189.96 88.90 L190.90 88.52 L191.85 88.15 L192.80 87.79 L193.76 87.45 L194.72 87.12 L195.69 86.80 L196.66 86.49 L197.64 86.20 L198.62 85.92 L199.60 85.65 L200.59 85.40 L201.58 85.17 L202.57 84.94 L203.56 84.74 L204.55 84.54 L205.55 84.37 L206.55 84.21 L207.55 84.06 L208.55 83.94 L209.55 83.82 L210.55 83.73 L211.55 83.65 L212.55 83.59 L213.55 83.55 L214.55 83.53 L215.54 83.52 L216.54 83.53 L217.53 83.56 L218.53 83.61 L219.52 83.68 L220.51 83.76 L221.50 83.85 L222.49 83.96 L223.48 84.09 L224.46 84.22 L225.45 84.38 L226.43 84.54 L227.41 84.72 L228.40 84.91 L229.38 85.11 L230.35 85.32 L231.33 85.54 L232.31 85.77 L233.28 86.00 L234.26 86.25 L235.23 86.51 L236.20 86.77 L237.17 87.04 L238.14 87.31 L239.11 87.59 L240.08 87.88 L241.05 88.17 L242.01 88.46 L242.98 88.76 L243.94 89.06 L244.90 89.36 L245.86 89.67 L246.82 89.98 L247.78 90.29 L248.74 90.60 L249.70 90.91 L250.65 91.23 L251.61 91.55 L252.56 91.86 L253.52 92.19 L254.47 92.51 L255.42 92.83 L256.38 93.16 L257.33 93.48 L258.28 93.81 L259.23 94.14 L260.18 94.47 L261.13 94.80 L262.08 95.13 L263.02 95.46 L263.97 95.79 L264.92 96.13 L265.87 96.46 L266.82 96.79 L267.76 97.13 L268.71 97.46 L269.66 97.79 L270.60 98.13 L271.55 98.46 L272.50 98.79 L273.44 99.13 L274.39 99.46 L275.34 99.79 L276.29 100.12 L277.23 100.45 L278.18 100.78 L279.13 101.11 L280.08 101.43 L281.02 101.76 L281.97 102.09 L282.92 102.41 L283.87 102.73 L284.82 103.05 L285.77 103.37 L286.72 103.69 L287.67 104.00 L288.63 104.32 L289.58 104.63 L290.53 104.94 L291.48 105.25 L292.44 105.55 L293.39 105.85 L294.35 106.15 L295.31 106.45 L296.27 106.75 L297.22 107.04 L298.18 107.33 L299.14 107.62 L300.11 107.91 L301.07 108.19 L302.03 108.47 L302.99 108.75 L303.96 109.03 L304.92 109.30 L305.89 109.58 L306.85 109.85 L307.82 110.12 L308.79 110.39 L309.75 110.65 L310.72 110.92 L311.69 111.18 L312.66 111.44 L313.63 111.70 L314.60 111.96 L315.57 112.22 L316.54 112.47 L317.51 112.73 L318.49 112.98 L319.46 113.23 L320.43 113.48 L321.40 113.73 L322.38 113.98 L323.35 114.22 L324.33 114.47 L325.30 114.71 L326.28 114.96 L327.25 115.20 L328.23 115.44 L329.21 115.68 L330.18 115.92 L331.16 116.16 L332.14 116.40 L333.11 116.64 L334.09 116.88 L335.07 117.12 L336.05 117.35 L337.02 117.59 L338.00 117.82 L338.98 118.06 L339.96 118.29 L340.94 118.53 L341.91 118.76 L342.89 119.00 L343.87 119.23 L344.85 119.47 L345.83 119.70 L346.81 119.94 L347.79 120.17 L348.77 120.41 L349.74 120.64 L350.72 120.88 L351.70 121.11 L352.68 121.35 L353.66 121.59 L354.64 121.82 L355.61 122.06 L356.59 122.30 L357.57 122.54 L358.55 122.78 L359.52 123.02 L360.50 123.26 L361.48 123.50 L362.45 123.74 L363.43 123.98 L364.41 124.23 L365.38 124.47 L366.36 124.72 L367.33 124.96 L368.31 125.21 L369.28 125.46 L370.26 125.71 L371.23 125.96 L372.20 126.21 L373.18 126.47 L374.15 126.72 L375.12 126.98 L376.09 127.24 L377.06 127.50 L378.03 127.76 L379.00 128.03 L379.97 128.29 L380.94 128.56 L381.91 128.83 L382.88 129.10 L383.85 129.37 L384.81 129.64 L385.78 129.92 L386.75 130.20 L387.71 130.48 L388.67 130.76 L389.64 131.04 L390.60 131.33 L391.56 131.62 L392.52 131.91 L393.49 132.20 L394.45 132.50 L395.40 132.80 L396.36 133.10 L397.32 133.40 L398.28 133.71 L399.23 134.02 L400.19 134.33 L401.14 134.64 L402.10 134.96 L403.05 135.28 L404.00 135.60" stroke="#0000ff" stroke-width="1.5" fill="none" stroke-linejoin="round"/>
<path d="M80.90 78.10 L81.18 79.05 L81.45 80.01 L81.70 80.98 L81.93 81.96 L82.16 82.94 L82.36 83.93 L82.56 84.92 L82.75 85.92 L82.92 86.93 L83.09 87.94 L83.24 88.96 L83.39 89.98 L83.53 91.01 L83.67 92.03 L83.80 93.07 L83.92 94.10 L84.04 95.14 L84.16 96.18 L84.27 97.22 L84.39 98.26 L84.50 99.31 L84.61 100.35 L84.72 101.39 L84.84 102.44 L84.95 103.48 L85.08 104.52 L85.20 105.56 L85.33 106.60 L85.46 107.64 L85.60 108.68 L85.75 109.71 L85.91 110.74 L86.07 111.76 L86.25 112.78 L86.44 113.80 L86.63 114.81 L86.84 115.82 L87.06 116.82 L87.30 117.82 L87.55 118.81 L87.82 119.79 L88.10 120.76 L88.40 121.73 L88.71 122.69 L89.05 123.64 L89.40 124.59 L89.78 125.52 L90.19 126.44 L90.63 127.34 L91.10 128.23 L91.60 129.09 L92.14 129.94 L92.73 130.77 L93.36 131.57 L94.03 132.35 L94.76 133.10 L95.44 132.38 L96.09 131.64 L96.71 130.88 L97.31 130.10 L97.89 129.30 L98.44 128.48 L98.98 127.65 L99.49 126.80 L99.99 125.94 L100.46 125.06 L100.92 124.17 L101.36 123.27 L101.78 122.36 L102.20 121.44 L102.59 120.50 L102.97 119.56 L103.35 118.62 L103.71 117.66 L104.06 116.70 L104.40 115.74 L104.73 114.77 L105.05 113.80 L105.37 112.82 L105.68 111.85 L105.99 110.87 L106.29 109.89 L106.59 108.92 L106.89 107.95 L107.18 106.97 L107.47 106.00 L107.76 105.03 L108.05 104.07 L108.33 103.10 L108.62 102.13 L108.90 101.17 L109.18 100.21 L109.47 99.25 L109.75 98.29 L110.03 97.33 L110.31 96.37 L110.59 95.42 L110.87 94.46 L111.15 93.51 L111.43 92.56 L111.71 91.61 L112.00 90.66 L112.28 89.71 L112.57 88.76 L112.86 87.81 L113.15 86.87 L113.44 85.93 L113.73 84.99 L114.03 84.04 L114.33 83.10 L114.63 82.17 L114.94 81.23 L115.25 80.29 L115.56 79.36 L115.88 78.43 L116.20 77.49 L116.52 76.56 L116.85 75.63 L117.19 74.70 L117.53 73.78 L117.87 72.85 L118.22 71.92 L118.58 71.00 L118.94 70.08 L119.31 69.16 L119.68 68.23 L120.06 67.32 L120.45 66.40 L120.84 65.48 L121.24 64.56 L121.65 63.65 L122.06 62.73 L122.49 61.82 L122.92 60.91 L123.36 60.00 L123.80 59.09 L124.26 58.18 L124.72 57.27 L125.20 56.37 L125.68 55.46 L126.17 54.56 L126.68 53.66 L127.19 52.75 L127.71 51.85 L128.24 50.95 L128.78 50.05 L129.34 49.16 L129.90 48.26 L130.48 47.38 L131.07 46.50 L131.67 45.63 L132.28 44.77 L132.91 43.93 L133.55 43.10 L134.20 42.30 L134.87 41.52 L135.55 40.76 L136.25 40.02 L136.96 39.32 L137.69 38.64 L138.44 38.00 L139.20 37.39 L139.98 36.82 L140.77 36.29 L141.59 35.80 L142.42 35.36 L143.27 34.96 L144.14 34.61 L145.02 34.31 L145.92 34.06 L146.83 33.85 L147.75 33.70 L148.68 33.60 L149.61 33.56 L150.54 33.56 L151.48 33.63 L152.41 33.74 L153.35 33.90 L154.28 34.11 L155.21 34.36 L156.14 34.66 L157.07 34.99 L157.99 35.37 L158.91 35.77 L159.82 36.22 L160.73 36.69 L161.64 37.19 L162.54 37.71 L163.43 38.26 L164.31 38.83 L165.18 39.41 L166.05 40.02 L166.91 40.63 L167.75 41.26 L168.59 41.90 L169.42 42.55 L170.23 43.20 L171.03 43.85 L171.83 44.51 L172.61 45.17 L173.39 45.84 L174.16 46.50 L174.92 47.18 L175.68 47.85 L176.43 48.52 L177.17 49.19 L177.91 49.87 L178.65 50.54 L179.39 51.21 L180.12 51.88 L180.86 52.55 L181.59 53.22 L182.32 53.88 L183.06 54.54 L183.79 55.20 L184.53 55.85 L185.27 56.49 L186.02 57.13 L186.77 57.77 L187.52 58.39 L188.29 59.01 L189.05 59.62 L189.83 60.23 L190.61 60.82 L191.41 61.41 L192.21 61.98 L193.02 62.55 L193.84 63.11 L194.67 63.65 L195.51 64.19 L196.36 64.73 L197.21 65.25 L198.07 65.77 L198.94 66.28 L199.81 66.78 L200.68 67.28 L201.56 67.78 L202.44 68.27 L203.33 68.76 L204.21 69.24 L205.10 69.72 L205.99 70.20 L206.88 70.68 L207.77 71.16 L208.66 71.63 L209.55 72.11 L210.44 72.58 L211.33 73.05 L212.23 73.52 L213.12 73.99 L214.01 74.45 L214.90 74.92 L215.80 75.38 L216.69 75.84 L217.59 76.30 L218.48 76.75 L219.38 77.21 L220.28 77.66 L221.17 78.11 L222.07 78.56 L222.97 79.00 L223.87 79.45 L224.77 79.89 L225.67 80.33 L226.58 80.77 L227.48 81.21 L228.38 81.64 L229.29 82.07 L230.19 82.50 L231.10 82.93 L232.00 83.35 L232.91 83.77 L233.82 84.19 L234.73 84.61 L235.64 85.03 L236.55 85.44 L237.47 85.85 L238.38 86.26 L239.30 86.66 L240.21 87.07 L241.13 87.47 L242.05 87.87 L242.97 88.26 L243.89 88.65 L244.81 89.04 L245.73 89.43 L246.65 89.81 L247.58 90.20 L248.51 90.58 L249.43 90.95 L250.36 91.33 L251.29 91.70 L252.22 92.07 L253.15 92.44 L254.08 92.80 L255.02 93.17 L255.95 93.53 L256.89 93.89 L257.82 94.24 L258.76 94.60 L259.70 94.95 L260.64 95.30 L261.57 95.65 L262.51 96.00 L263.45 96.35 L264.40 96.69 L265.34 97.04 L266.28 97.38 L267.22 97.72 L268.17 98.06 L269.11 98.39 L270.06 98.73 L271.00 99.06 L271.95 99.40 L272.90 99.73 L273.84 100.06 L274.79 100.39 L275.74 100.72 L276.69 101.04 L277.64 101.37 L278.59 101.70 L279.54 102.02 L280.49 102.34 L281.44 102.67 L282.39 102.99 L283.34 103.31 L284.29 103.63 L285.24 103.95 L286.20 104.27 L287.15 104.59 L288.10 104.91 L289.05 105.23 L290.01 105.54 L290.96 105.86 L291.91 106.18 L292.87 106.50 L293.82 106.81 L294.77 107.13 L295.72 107.45 L296.68 107.76 L297.63 108.08 L298.58 108.40 L299.54 108.71 L300.49 109.03 L301.44 109.35 L302.40 109.66 L303.35 109.98 L304.30 110.30 L305.25 110.62 L306.20 110.94 L307.16 111.26 L308.11 111.58 L309.06 111.90 L310.01 112.22 L310.96 112.54 L311.91 112.86 L312.86 113.18 L313.81 113.50 L314.76 113.82 L315.71 114.15 L316.66 114.47 L317.61 114.79 L318.56 115.11 L319.51 115.43 L320.46 115.76 L321.41 116.08 L322.36 116.40 L323.31 116.72 L324.26 117.04 L325.21 117.37 L326.16 117.69 L327.11 118.01 L328.06 118.33 L329.01 118.65 L329.96 118.97 L330.91 119.29 L331.86 119.61 L332.81 119.93 L333.76 120.25 L334.71 120.57 L335.66 120.89 L336.61 121.21 L337.56 121.53 L338.52 121.85 L339.47 122.16 L340.42 122.48 L341.37 122.80 L342.32 123.11 L343.27 123.43 L344.22 123.74 L345.17 124.05 L346.13 124.37 L347.08 124.68 L348.03 124.99 L348.98 125.30 L349.94 125.61 L350.89 125.92 L351.84 126.23 L352.80 126.53 L353.75 126.84 L354.71 127.14 L355.66 127.45 L356.62 127.75 L357.57 128.05 L358.53 128.35 L359.48 128.65 L360.44 128.95 L361.39 129.25 L362.35 129.55 L363.31 129.84 L364.27 130.14 L365.23 130.43 L366.18 130.72 L367.14 131.01 L368.10 131.30 L369.06 131.59 L370.02 131.87 L370.98 132.16 L371.95 132.44 L372.91 132.72 L373.87 133.00 L374.83 133.28 L375.80 133.56 L376.76 133.83 L377.72 134.11 L378.69 134.38 L379.65 134.65 L380.62 134.92 L381.59 135.19 L382.55 135.45 L383.52 135.72 L384.49 135.98 L385.46 136.24 L386.43 136.50 L387.40 136.75 L388.37 137.01 L389.34 137.26 L390.31 137.51 L391.29 137.76 L392.26 138.01 L393.23 138.25 L394.21 138.49 L395.19 138.73 L396.16 138.97 L397.14 139.21 L398.12 139.44 L399.10 139.67 L400.07 139.90 L401.05 140.13 L402.04 140.36 L403.02 140.58 L404.00 140.80" stroke="#076807" stroke-width="1.5" fill="none" stroke-linejoin="round"/>
<path d="M80.90 292.00 L81.07 291.02 L81.23 290.04 L81.39 289.06 L81.55 288.08 L81.71 287.10 L81.86 286.12 L82.01 285.13 L82.16 284.14 L82.31 283.16 L82.45 282.17 L82.59 281.18 L82.73 280.19 L82.87 279.20 L83.01 278.21 L83.14 277.22 L83.27 276.22 L83.41 275.23 L83.53 274.23 L83.66 273.24 L83.79 272.24 L83.91 271.25 L84.04 270.25 L84.16 269.25 L84.29 268.25 L84.41 267.25 L84.53 266.25 L84.65 265.25 L84.77 264.25 L84.89 263.25 L85.01 262.25 L85.13 261.25 L85.24 260.25 L85.36 259.25 L85.48 258.25 L85.60 257.25 L85.72 256.25 L85.84 255.24 L85.96 254.24 L86.08 253.24 L86.20 252.24 L86.33 251.24 L86.45 250.23 L86.57 249.23 L86.70 248.23 L86.83 247.23 L86.95 246.23 L87.08 245.23 L87.21 244.23 L87.34 243.23 L87.48 242.23 L87.61 241.23 L87.75 240.23 L87.89 239.23 L88.03 238.24 L88.18 237.24 L88.32 236.24 L88.47 235.25 L88.62 234.25 L88.77 233.26 L88.93 232.26 L89.09 231.27 L89.25 230.28 L89.41 229.29 L89.58 228.30 L89.75 227.31 L89.93 226.32 L90.10 225.33 L90.28 224.34 L90.47 223.36 L90.65 222.37 L90.85 221.39 L91.04 220.41 L91.24 219.43 L91.44 218.45 L91.65 217.47 L91.86 216.49 L92.08 215.52 L92.30 214.54 L92.52 213.57 L92.75 212.60 L92.99 211.63 L93.23 210.66 L93.47 209.69 L93.72 208.72 L93.97 207.76 L94.23 206.80 L94.50 205.84 L94.77 204.88 L95.04 203.92 L95.32 202.97 L95.61 202.01 L95.90 201.06 L96.20 200.11 L96.50 199.16 L96.81 198.22 L97.13 197.27 L97.45 196.33 L97.78 195.39 L98.12 194.45 L98.46 193.52 L98.81 192.58 L99.17 191.65 L99.53 190.72 L99.90 189.79 L100.27 188.87 L100.65 187.94 L101.03 187.02 L101.41 186.10 L101.80 185.18 L102.19 184.25 L102.59 183.33 L102.98 182.41 L103.38 181.49 L103.78 180.57 L104.17 179.65 L104.57 178.73 L104.96 177.81 L105.36 176.89 L105.75 175.96 L106.14 175.04 L106.52 174.11 L106.91 173.19 L107.28 172.26 L107.66 171.32 L108.03 170.39 L108.39 169.45 L108.74 168.51 L109.09 167.57 L109.43 166.62 L109.77 165.68 L110.09 164.72 L110.41 163.77 L110.72 162.81 L111.02 161.85 L111.31 160.88 L111.60 159.91 L111.87 158.94 L112.14 157.97 L112.41 156.99 L112.67 156.02 L112.92 155.04 L113.16 154.06 L113.41 153.07 L113.64 152.09 L113.88 151.10 L114.11 150.12 L114.33 149.13 L114.55 148.15 L114.77 147.16 L114.99 146.17 L115.21 145.18 L115.42 144.20 L115.63 143.21 L115.84 142.23 L116.05 141.24 L116.26 140.26 L116.47 139.28 L116.69 138.30 L116.90 137.32 L117.11 136.34 L117.32 135.36 L117.53 134.39 L117.75 133.42 L117.96 132.44 L118.18 131.47 L118.39 130.50 L118.61 129.53 L118.82 128.57 L119.04 127.60 L119.26 126.63 L119.47 125.67 L119.69 124.70 L119.91 123.74 L120.13 122.77 L120.35 121.81 L120.57 120.85 L120.79 119.89 L121.01 118.92 L121.23 117.96 L121.46 117.00 L121.68 116.04 L121.90 115.07 L122.13 114.11 L122.35 113.15 L122.58 112.19 L122.81 111.23 L123.03 110.26 L123.26 109.30 L123.49 108.34 L123.72 107.37 L123.94 106.41 L124.17 105.44 L124.40 104.47 L124.63 103.51 L124.87 102.54 L125.10 101.57 L125.33 100.60 L125.56 99.63 L125.80 98.66 L126.03 97.68 L126.26 96.71 L126.50 95.73 L126.73 94.75 L126.97 93.78 L127.21 92.80 L127.45 91.81 L127.68 90.83 L127.92 89.84 L128.16 88.86 L128.40 87.87 L128.64 86.88 L128.88 85.88 L129.12 84.89 L129.37 83.89 L129.61 82.89 L129.85 81.89 L130.10 80.89 L130.34 79.88 L130.59 78.87 L130.83 77.86 L131.09 76.85 L131.35 75.84 L131.62 74.84 L131.90 73.84 L132.19 72.85 L132.49 71.87 L132.82 70.89 L133.16 69.93 L133.52 68.97 L133.90 68.03 L134.31 67.11 L134.75 66.20 L135.21 65.31 L135.70 64.44 L136.23 63.58 L136.79 62.75 L137.38 61.95 L138.01 61.17 L138.67 60.42 L139.35 59.70 L140.07 59.02 L140.81 58.37 L141.58 57.77 L142.37 57.20 L143.19 56.69 L144.03 56.22 L144.89 55.80 L145.76 55.43 L146.66 55.13 L147.57 54.88 L148.49 54.69 L149.43 54.56 L150.38 54.50 L151.34 54.50 L152.31 54.56 L153.29 54.66 L154.27 54.81 L155.25 55.00 L156.23 55.22 L157.22 55.48 L158.20 55.76 L159.18 56.06 L160.15 56.38 L161.11 56.72 L162.07 57.06 L163.02 57.42 L163.97 57.79 L164.91 58.17 L165.84 58.56 L166.77 58.96 L167.70 59.37 L168.62 59.79 L169.53 60.22 L170.44 60.66 L171.35 61.10 L172.25 61.55 L173.15 62.00 L174.04 62.46 L174.94 62.92 L175.83 63.39 L176.72 63.86 L177.60 64.33 L178.49 64.81 L179.37 65.29 L180.25 65.77 L181.13 66.25 L182.01 66.73 L182.89 67.20 L183.77 67.68 L184.65 68.16 L185.54 68.63 L186.42 69.10 L187.30 69.57 L188.18 70.03 L189.07 70.49 L189.96 70.94 L190.84 71.39 L191.74 71.83 L192.63 72.26 L193.53 72.69 L194.43 73.11 L195.33 73.53 L196.23 73.95 L197.13 74.36 L198.03 74.77 L198.93 75.19 L199.83 75.60 L200.74 76.02 L201.63 76.44 L202.53 76.87 L203.43 77.30 L204.32 77.74 L205.21 78.19 L206.09 78.65 L206.97 79.11 L207.85 79.59 L208.73 80.07 L209.60 80.56 L210.47 81.06 L211.34 81.56 L212.21 82.05 L213.09 82.55 L213.96 83.04 L214.84 83.53 L215.72 84.01 L216.60 84.48 L217.49 84.95 L218.38 85.41 L219.27 85.87 L220.16 86.32 L221.06 86.76 L221.96 87.20 L222.87 87.64 L223.77 88.06 L224.68 88.49 L225.59 88.91 L226.50 89.32 L227.42 89.74 L228.33 90.14 L229.25 90.55 L230.17 90.95 L231.09 91.35 L232.01 91.74 L232.94 92.13 L233.86 92.52 L234.79 92.91 L235.71 93.30 L236.64 93.68 L237.57 94.06 L238.50 94.44 L239.43 94.82 L240.36 95.20 L241.29 95.57 L242.22 95.95 L243.15 96.32 L244.09 96.70 L245.02 97.07 L245.95 97.45 L246.88 97.82 L247.81 98.20 L248.74 98.57 L249.67 98.95 L250.61 99.32 L251.54 99.69 L252.47 100.06 L253.40 100.44 L254.33 100.81 L255.27 101.18 L256.20 101.55 L257.13 101.92 L258.06 102.29 L259.00 102.66 L259.93 103.02 L260.87 103.39 L261.80 103.76 L262.73 104.12 L263.67 104.49 L264.60 104.85 L265.54 105.21 L266.47 105.57 L267.41 105.93 L268.34 106.29 L269.28 106.65 L270.22 107.01 L271.15 107.36 L272.09 107.72 L273.03 108.07 L273.97 108.42 L274.91 108.77 L275.85 109.12 L276.79 109.47 L277.73 109.81 L278.67 110.16 L279.61 110.50 L280.55 110.84 L281.49 111.18 L282.44 111.52 L283.38 111.85 L284.32 112.19 L285.27 112.52 L286.21 112.85 L287.16 113.18 L288.11 113.50 L289.05 113.83 L290.00 114.15 L290.95 114.47 L291.90 114.79 L292.85 115.10 L293.80 115.42 L294.75 115.73 L295.70 116.04 L296.66 116.35 L297.61 116.65 L298.56 116.95 L299.52 117.25 L300.48 117.55 L301.43 117.85 L302.39 118.14 L303.35 118.43 L304.31 118.71 L305.27 119.00 L306.23 119.28 L307.19 119.56 L308.16 119.84 L309.12 120.11 L310.08 120.38 L311.05 120.65 L312.01 120.92 L312.98 121.19 L313.95 121.45 L314.92 121.71 L315.88 121.97 L316.85 122.23 L317.82 122.49 L318.79 122.75 L319.76 123.00 L320.73 123.25 L321.70 123.51 L322.68 123.76 L323.65 124.01 L324.62 124.26 L325.59 124.51 L326.56 124.75 L327.54 125.00 L328.51 125.25 L329.48 125.50 L330.45 125.74 L331.43 125.99 L332.40 126.23 L333.37 126.48 L334.34 126.73 L335.32 126.97 L336.29 127.22 L337.26 127.47 L338.23 127.72 L339.21 127.96 L340.18 128.21 L341.15 128.46 L342.12 128.71 L343.09 128.97 L344.06 129.22 L345.03 129.47 L346.00 129.73 L346.97 129.98 L347.94 130.24 L348.90 130.50 L349.87 130.76 L350.84 131.03 L351.80 131.29 L352.77 131.56 L353.73 131.83 L354.70 132.10 L355.66 132.37 L356.62 132.64 L357.58 132.92 L358.54 133.20 L359.50 133.48 L360.46 133.76 L361.42 134.04 L362.38 134.33 L363.34 134.61 L364.30 134.89 L365.26 135.17 L366.22 135.45 L367.18 135.74 L368.14 136.02 L369.10 136.29 L370.07 136.57 L371.03 136.85 L371.99 137.12 L372.96 137.39 L373.92 137.66 L374.89 137.92 L375.86 138.19 L376.82 138.44 L377.79 138.70 L378.76 138.96 L379.74 139.21 L380.71 139.46 L381.68 139.71 L382.65 139.95 L383.63 140.20 L384.60 140.44 L385.58 140.69 L386.55 140.93 L387.52 141.18 L388.50 141.42 L389.47 141.67 L390.45 141.91 L391.42 142.16 L392.39 142.41 L393.37 142.66 L394.34 142.91 L395.31 143.17 L396.28 143.42 L397.25 143.68 L398.22 143.95 L399.18 144.21 L400.15 144.48 L401.12 144.75 L402.08 145.03 L403.04 145.31 L404.00 145.60" stroke="#076807" stroke-width="1.5" fill="none" stroke-linejoin="round"/>
</g>
<clipPath id="lcv"><rect x="265.3" y="154.6" width="17.69999999999999" height="12.599999999999994"/></clipPath>
<g clip-path="url(#lcv)"><path d="M267.50 154.60 L267.50 167.20 M270.27 154.60 L270.27 167.20 M273.04 154.60 L273.04 167.20 M275.81 154.60 L275.81 167.20 M278.58 154.60 L278.58 167.20 M281.35 154.60 L281.35 167.20" stroke="#076807" stroke-width="0.95" fill="none"/></g>
<path d="M265.3 154.6 L283.0 154.6 M265.3 167.2 L283.0 167.2" stroke="#076807" stroke-width="1.4" fill="none"/>
<clipPath id="lcb"><rect x="265.3" y="175.9" width="17.69999999999999" height="12.699999999999989"/></clipPath>
<g clip-path="url(#lcb)"><path d="M269.52 156.07 L300.33 186.88 M267.75 157.84 L298.56 188.65 M265.98 159.61 L296.79 190.42 M264.22 161.37 L295.03 192.18 M262.45 163.14 L293.26 193.95 M260.68 164.91 L291.49 195.72 M258.91 166.68 L289.72 197.49 M257.15 168.45 L287.95 199.25 M255.38 170.21 L286.19 201.02 M253.61 171.98 L284.42 202.79 M251.84 173.75 L282.65 204.56 M250.07 175.52 L280.88 206.33 M248.31 177.28 L279.12 208.09" stroke="#0000ff" stroke-width="1.1" fill="none"/></g>
<path d="M265.3 175.9 L283.0 175.9 M265.3 188.6 L283.0 188.6" stroke="#0000ff" stroke-width="1.4" fill="none"/>
<clipPath id="lcr"><rect x="265.3" y="197.2" width="17.69999999999999" height="12.400000000000006"/></clipPath>
<g clip-path="url(#lcr)"><path d="M248.49 208.31 L279.06 177.74 M250.26 210.08 L280.83 179.51 M252.03 211.84 L282.59 181.28 M253.80 213.61 L284.36 183.05 M255.57 215.38 L286.13 184.82 M257.33 217.15 L287.90 186.58 M259.10 218.91 L289.66 188.35 M260.87 220.68 L291.43 190.12 M262.64 222.45 L293.20 191.89 M264.40 224.22 L294.97 193.65 M266.17 225.99 L296.74 195.42 M267.94 227.75 L298.50 197.19 M269.71 229.52 L300.27 198.96" stroke="#ff0000" stroke-width="0.85" fill="none"/></g>
<path d="M265.3 197.2 L283.0 197.2 M265.3 209.6 L283.0 209.6" stroke="#ff0000" stroke-width="1.4" fill="none"/>
<path d="M59.2 15.3 L402.4 15.3 L402.4 247.6 L59.2 247.6 Z" stroke="#000" stroke-width="1.6" fill="none" stroke-linejoin="miter"/>
<path d="M74.66 247.60 L74.66 242.40 M74.66 15.30 L74.66 20.50 M92.00 247.60 L92.00 242.40 M92.00 15.30 L92.00 20.50 M109.33 247.60 L109.33 242.40 M109.33 15.30 L109.33 20.50 M126.66 247.60 L126.66 242.40 M126.66 15.30 L126.66 20.50 M144.00 247.60 L144.00 236.90 M144.00 15.30 L144.00 26.00 M161.34 247.60 L161.34 242.40 M161.34 15.30 L161.34 20.50 M178.67 247.60 L178.67 242.40 M178.67 15.30 L178.67 20.50 M196.00 247.60 L196.00 242.40 M196.00 15.30 L196.00 20.50 M213.34 247.60 L213.34 242.40 M213.34 15.30 L213.34 20.50 M230.68 247.60 L230.68 236.90 M230.68 15.30 L230.68 26.00 M248.01 247.60 L248.01 242.40 M248.01 15.30 L248.01 20.50 M265.35 247.60 L265.35 242.40 M265.35 15.30 L265.35 20.50 M282.68 247.60 L282.68 242.40 M282.68 15.30 L282.68 20.50 M300.01 247.60 L300.01 242.40 M300.01 15.30 L300.01 20.50 M317.35 247.60 L317.35 236.90 M317.35 15.30 L317.35 26.00 M334.69 247.60 L334.69 242.40 M334.69 15.30 L334.69 20.50 M352.02 247.60 L352.02 242.40 M352.02 15.30 L352.02 20.50 M369.36 247.60 L369.36 242.40 M369.36 15.30 L369.36 20.50 M386.69 247.60 L386.69 242.40 M386.69 15.30 L386.69 20.50 M59.20 239.11 L64.40 239.11 M402.40 239.11 L397.20 239.11 M59.20 230.62 L64.40 230.62 M402.40 230.62 L397.20 230.62 M59.20 222.14 L64.40 222.14 M402.40 222.14 L397.20 222.14 M59.20 213.65 L64.40 213.65 M402.40 213.65 L397.20 213.65 M59.20 205.16 L69.90 205.16 M402.40 205.16 L391.70 205.16 M59.20 196.67 L64.40 196.67 M402.40 196.67 L397.20 196.67 M59.20 188.18 L64.40 188.18 M402.40 188.18 L397.20 188.18 M59.20 179.70 L64.40 179.70 M402.40 179.70 L397.20 179.70 M59.20 171.21 L64.40 171.21 M402.40 171.21 L397.20 171.21 M59.20 162.72 L69.90 162.72 M402.40 162.72 L391.70 162.72 M59.20 154.23 L64.40 154.23 M402.40 154.23 L397.20 154.23 M59.20 145.74 L64.40 145.74 M402.40 145.74 L397.20 145.74 M59.20 137.26 L64.40 137.26 M402.40 137.26 L397.20 137.26 M59.20 128.77 L64.40 128.77 M402.40 128.77 L397.20 128.77 M59.20 120.28 L69.90 120.28 M402.40 120.28 L391.70 120.28 M59.20 111.79 L64.40 111.79 M402.40 111.79 L397.20 111.79 M59.20 103.30 L64.40 103.30 M402.40 103.30 L397.20 103.30 M59.20 94.82 L64.40 94.82 M402.40 94.82 L397.20 94.82 M59.20 86.33 L64.40 86.33 M402.40 86.33 L397.20 86.33 M59.20 77.84 L69.90 77.84 M402.40 77.84 L391.70 77.84 M59.20 69.35 L64.40 69.35 M402.40 69.35 L397.20 69.35 M59.20 60.86 L64.40 60.86 M402.40 60.86 L397.20 60.86 M59.20 52.38 L64.40 52.38 M402.40 52.38 L397.20 52.38 M59.20 43.89 L64.40 43.89 M402.40 43.89 L397.20 43.89 M59.20 35.40 L69.90 35.40 M402.40 35.40 L391.70 35.40 M59.20 26.91 L64.40 26.91 M402.40 26.91 L397.20 26.91 M59.20 18.42 L64.40 18.42 M402.40 18.42 L397.20 18.42" stroke="#000" stroke-width="1.5" fill="none"/>
<path d="M130.97 260.02 L132.05 259.48 L133.68 257.85 L133.68 269.25 M146.72 257.85 L141.28 257.85 L140.74 262.73 L141.28 262.19 L142.91 261.65 L144.54 261.65 L146.17 262.19 L147.26 263.28 L147.80 264.91 L147.80 265.99 L147.26 267.62 L146.17 268.71 L144.54 269.25 L142.91 269.25 L141.28 268.71 L140.74 268.16 L140.20 267.08 M154.32 257.85 L152.69 258.39 L151.60 260.02 L151.06 262.73 L151.06 264.36 L151.60 267.08 L152.69 268.71 L154.32 269.25 L155.40 269.25 L157.03 268.71 L158.12 267.08 L158.66 264.36 L158.66 262.73 L158.12 260.02 L157.03 258.39 L155.40 257.85 L154.32 257.85 M216.56 260.56 L216.56 260.02 L217.10 258.93 L217.64 258.39 L218.73 257.85 L220.90 257.85 L221.99 258.39 L222.53 258.93 L223.07 260.02 L223.07 261.11 L222.53 262.19 L221.44 263.82 L216.01 269.25 L223.62 269.25 M230.13 257.85 L228.50 258.39 L227.42 260.02 L226.87 262.73 L226.87 264.36 L227.42 267.08 L228.50 268.71 L230.13 269.25 L231.22 269.25 L232.85 268.71 L233.93 267.08 L234.48 264.36 L234.48 262.73 L233.93 260.02 L232.85 258.39 L231.22 257.85 L230.13 257.85 M240.99 257.85 L239.36 258.39 L238.28 260.02 L237.73 262.73 L237.73 264.36 L238.28 267.08 L239.36 268.71 L240.99 269.25 L242.08 269.25 L243.71 268.71 L244.79 267.08 L245.34 264.36 L245.34 262.73 L244.79 260.02 L243.71 258.39 L242.08 257.85 L240.99 257.85 M303.23 260.56 L303.23 260.02 L303.77 258.93 L304.32 258.39 L305.40 257.85 L307.58 257.85 L308.66 258.39 L309.20 258.93 L309.75 260.02 L309.75 261.11 L309.20 262.19 L308.12 263.82 L302.69 269.25 L310.29 269.25 M320.06 257.85 L314.63 257.85 L314.09 262.73 L314.63 262.19 L316.26 261.65 L317.89 261.65 L319.52 262.19 L320.61 263.28 L321.15 264.91 L321.15 265.99 L320.61 267.62 L319.52 268.71 L317.89 269.25 L316.26 269.25 L314.63 268.71 L314.09 268.16 L313.55 267.08 M327.67 257.85 L326.04 258.39 L324.95 260.02 L324.41 262.73 L324.41 264.36 L324.95 267.08 L326.04 268.71 L327.67 269.25 L328.75 269.25 L330.38 268.71 L331.47 267.08 L332.01 264.36 L332.01 262.73 L331.47 260.02 L330.38 258.39 L328.75 257.85 L327.67 257.85 M41.00 201.63 L42.08 201.09 L43.71 199.46 L43.71 210.86 M39.91 159.73 L39.91 159.19 L40.46 158.10 L41.00 157.56 L42.08 157.02 L44.26 157.02 L45.34 157.56 L45.89 158.10 L46.43 159.19 L46.43 160.28 L45.89 161.36 L44.80 162.99 L39.37 168.42 L46.97 168.42 M40.46 114.58 L46.43 114.58 L43.17 118.92 L44.80 118.92 L45.89 119.47 L46.43 120.01 L46.97 121.64 L46.97 122.72 L46.43 124.35 L45.34 125.44 L43.71 125.98 L42.08 125.98 L40.46 125.44 L39.91 124.90 L39.37 123.81 M44.80 72.14 L39.37 79.74 L47.51 79.74 M44.80 72.14 L44.80 83.54 M45.89 29.70 L40.46 29.70 L39.91 34.59 L40.46 34.04 L42.08 33.50 L43.71 33.50 L45.34 34.04 L46.43 35.13 L46.97 36.76 L46.97 37.84 L46.43 39.47 L45.34 40.56 L43.71 41.10 L42.08 41.10 L40.46 40.56 L39.91 40.02 L39.37 38.93 M202.54 280.40 L202.54 291.80 M198.74 280.40 L206.34 280.40 M221.55 278.93 L220.46 280.02 L219.38 281.65 L218.29 283.82 L217.75 286.53 L217.75 288.70 L218.29 291.42 L219.38 293.59 L220.46 295.22 L221.55 296.31 M225.35 280.40 L225.35 291.80 M225.35 280.40 L229.69 291.80 M234.04 280.40 L229.69 291.80 M234.04 280.40 L234.04 291.80 M237.84 287.46 L244.35 287.46 L244.35 286.37 L243.81 285.28 L243.27 284.74 L242.18 284.20 L240.55 284.20 L239.47 284.74 L238.38 285.83 L237.84 287.46 L237.84 288.54 L238.38 290.17 L239.47 291.26 L240.55 291.80 L242.18 291.80 L243.27 291.26 L244.35 290.17 M246.53 280.40 L250.87 291.80 M255.22 280.40 L250.87 291.80 M257.39 278.93 L258.47 280.02 L259.56 281.65 L260.64 283.82 L261.19 286.53 L261.19 288.70 L260.64 291.42 L259.56 293.59 L258.47 295.22 L257.39 296.31 M8.53 195.23 L9.61 196.31 L11.24 197.40 L13.41 198.48 L16.13 199.03 L18.30 199.03 L21.01 198.48 L23.19 197.40 L24.82 196.31 L25.90 195.23 M15.86 186.27 L15.04 186.88 L14.50 188.09 L14.50 189.92 L14.93 191.13 L15.69 191.86 L16.67 191.86 L17.48 191.25 L17.97 190.04 L18.14 188.09 M18.14 188.09 L18.30 190.22 L18.84 191.68 L19.77 192.35 L20.47 192.35 L21.39 191.74 L21.99 190.52 L22.10 189.00 L21.72 187.48 L20.74 186.27 M10.40 182.37 L15.95 182.37 L16.92 182.04 L17.25 181.39 L17.25 180.74 M12.69 183.35 L12.69 181.07 M12.69 177.48 L13.01 178.13 L13.66 178.78 L14.64 179.11 L15.29 179.11 L16.27 178.78 L16.92 178.13 L17.25 177.48 L17.25 176.50 L16.92 175.85 L16.27 175.20 L15.29 174.87 L14.64 174.87 L13.66 175.20 L13.01 175.85 L12.69 176.50 L12.69 177.48 M10.40 172.26 L15.95 172.26 L16.92 171.94 L17.25 171.29 L17.25 170.63 M12.69 173.24 L12.69 170.96 M12.69 165.09 L17.25 165.09 M13.66 165.09 L13.01 165.74 L12.69 166.40 L12.69 167.37 L13.01 168.03 L13.66 168.68 L14.64 169.00 L15.29 169.00 L16.27 168.68 L16.92 168.03 L17.25 167.37 L17.25 166.40 L16.92 165.74 L16.27 165.09 M10.40 162.48 L17.25 162.48 M17.21 159.01 L17.21 149.23 M10.70 144.35 L10.70 138.37 L15.04 141.63 L15.04 140.00 L15.58 138.92 L16.13 138.37 L17.76 137.83 L18.84 137.83 L20.47 138.37 L21.56 139.46 L22.10 141.09 L22.10 142.72 L21.56 144.35 L21.01 144.89 L19.93 145.43 M14.50 134.03 L25.90 134.03 M16.13 134.03 L15.04 132.94 L14.50 131.86 L14.50 130.23 L15.04 129.14 L16.13 128.06 L17.76 127.51 L18.84 127.51 L20.47 128.06 L21.56 129.14 L22.10 130.23 L22.10 131.86 L21.56 132.94 L20.47 134.03 M22.59 121.52 L27.15 125.11 M22.59 125.11 L22.59 121.52 M27.15 125.11 L27.15 121.52 M26.82 118.59 L27.15 118.91 L26.82 119.24 L26.50 118.91 L26.82 118.59 L27.48 118.59 L28.13 118.91 L28.45 119.24 M22.59 115.98 L27.15 115.98 M24.54 115.98 L23.56 115.65 L22.91 115.00 L22.59 114.35 L22.59 113.37 M8.53 111.42 L9.61 110.33 L11.24 109.24 L13.41 108.16 L16.13 107.61 L18.30 107.61 L21.01 108.16 L23.19 109.24 L24.82 110.33 L25.90 111.42 M8.53 87.09 L25.90 94.47 M10.70 71.78 L22.10 71.78 M10.70 75.58 L10.70 67.98 M10.55 63.69 L15.12 66.95 L15.12 62.06 M10.55 63.69 L17.40 63.69" stroke="#000" stroke-width="1.4" fill="none" stroke-linecap="round" stroke-linejoin="round"/>
<path d="M292.57 161.19 L298.06 161.19 L298.06 160.28 L297.60 159.37 L297.14 158.91 L296.23 158.45 L294.86 158.45 L293.94 158.91 L293.03 159.82 L292.57 161.19 L292.57 162.11 L293.03 163.48 L293.94 164.39 L294.86 164.85 L296.23 164.85 L297.14 164.39 L298.06 163.48 M301.25 155.25 L301.25 164.85 M301.25 155.25 L305.37 155.25 L306.74 155.71 L307.19 156.17 L307.65 157.08 L307.65 158.00 L307.19 158.91 L306.74 159.37 L305.37 159.82 M301.25 159.82 L305.37 159.82 L306.74 160.28 L307.19 160.74 L307.65 161.65 L307.65 163.02 L307.19 163.94 L306.74 164.39 L305.37 164.85 L301.25 164.85 M310.85 159.37 L319.08 159.37 M310.85 162.11 L319.08 162.11 M325.02 155.25 L323.65 155.71 L322.73 157.08 L322.28 159.37 L322.28 160.74 L322.73 163.02 L323.65 164.39 L325.02 164.85 L325.93 164.85 L327.30 164.39 L328.22 163.02 L328.67 160.74 L328.67 159.37 L328.22 157.08 L327.30 155.71 L325.93 155.25 L325.02 155.25 M332.33 163.94 L331.87 164.39 L332.33 164.85 L332.79 164.39 L332.33 163.94 M340.56 155.25 L335.99 161.65 L342.84 161.65 M340.56 155.25 L340.56 164.85 M359.29 157.54 L358.84 156.62 L357.92 155.71 L357.01 155.25 L355.18 155.25 L354.27 155.71 L353.35 156.62 L352.89 157.54 L352.44 158.91 L352.44 161.19 L352.89 162.56 L353.35 163.48 L354.27 164.39 L355.18 164.85 L357.01 164.85 L357.92 164.39 L358.84 163.48 L359.29 162.56 L359.29 161.19 M357.01 161.19 L359.29 161.19 M362.03 161.19 L367.52 161.19 L367.52 160.28 L367.06 159.37 L366.61 158.91 L365.69 158.45 L364.32 158.45 L363.41 158.91 L362.49 159.82 L362.03 161.19 L362.03 162.11 L362.49 163.48 L363.41 164.39 L364.32 164.85 L365.69 164.85 L366.61 164.39 L367.52 163.48 M369.35 155.25 L373.00 164.85 M376.66 155.25 L373.00 164.85 M378.41 155.57 L378.41 155.29 L378.69 154.74 L378.96 154.47 L379.51 154.20 L380.60 154.20 L381.15 154.47 L381.43 154.74 L381.70 155.29 L381.70 155.84 L381.43 156.39 L380.88 157.21 L378.14 159.95 L381.97 159.95 M292.57 182.74 L298.06 182.74 L298.06 181.83 L297.60 180.92 L297.14 180.46 L296.23 180.00 L294.86 180.00 L293.94 180.46 L293.03 181.37 L292.57 182.74 L292.57 183.66 L293.03 185.03 L293.94 185.94 L294.86 186.40 L296.23 186.40 L297.14 185.94 L298.06 185.03 M301.25 176.80 L301.25 186.40 M301.25 176.80 L305.37 176.80 L306.74 177.26 L307.19 177.72 L307.65 178.63 L307.65 179.55 L307.19 180.46 L306.74 180.92 L305.37 181.37 M301.25 181.37 L305.37 181.37 L306.74 181.83 L307.19 182.29 L307.65 183.20 L307.65 184.57 L307.19 185.49 L306.74 185.94 L305.37 186.40 L301.25 186.40 M310.85 180.92 L319.08 180.92 M310.85 183.66 L319.08 183.66 M325.02 176.80 L323.65 177.26 L322.73 178.63 L322.28 180.92 L322.28 182.29 L322.73 184.57 L323.65 185.94 L325.02 186.40 L325.93 186.40 L327.30 185.94 L328.22 184.57 L328.67 182.29 L328.67 180.92 L328.22 178.63 L327.30 177.26 L325.93 176.80 L325.02 176.80 M332.33 185.49 L331.87 185.94 L332.33 186.40 L332.79 185.94 L332.33 185.49 M336.44 179.09 L336.44 178.63 L336.90 177.72 L337.36 177.26 L338.27 176.80 L340.10 176.80 L341.01 177.26 L341.47 177.72 L341.93 178.63 L341.93 179.55 L341.47 180.46 L340.56 181.83 L335.99 186.40 L342.38 186.40 M359.29 179.09 L358.84 178.17 L357.92 177.26 L357.01 176.80 L355.18 176.80 L354.27 177.26 L353.35 178.17 L352.89 179.09 L352.44 180.46 L352.44 182.74 L352.89 184.12 L353.35 185.03 L354.27 185.94 L355.18 186.40 L357.01 186.40 L357.92 185.94 L358.84 185.03 L359.29 184.12 L359.29 182.74 M357.01 182.74 L359.29 182.74 M362.03 182.74 L367.52 182.74 L367.52 181.83 L367.06 180.92 L366.61 180.46 L365.69 180.00 L364.32 180.00 L363.41 180.46 L362.49 181.37 L362.03 182.74 L362.03 183.66 L362.49 185.03 L363.41 185.94 L364.32 186.40 L365.69 186.40 L366.61 185.94 L367.52 185.03 M369.35 176.80 L373.00 186.40 M376.66 176.80 L373.00 186.40 M378.41 177.12 L378.41 176.84 L378.69 176.29 L378.96 176.02 L379.51 175.75 L380.60 175.75 L381.15 176.02 L381.43 176.29 L381.70 176.84 L381.70 177.39 L381.43 177.94 L380.88 178.76 L378.14 181.50 L381.97 181.50 M292.57 204.24 L298.06 204.24 L298.06 203.33 L297.60 202.42 L297.14 201.96 L296.23 201.50 L294.86 201.50 L293.94 201.96 L293.03 202.87 L292.57 204.24 L292.57 205.16 L293.03 206.53 L293.94 207.44 L294.86 207.90 L296.23 207.90 L297.14 207.44 L298.06 206.53 M301.25 198.30 L301.25 207.90 M301.25 198.30 L305.37 198.30 L306.74 198.76 L307.19 199.22 L307.65 200.13 L307.65 201.05 L307.19 201.96 L306.74 202.42 L305.37 202.87 M301.25 202.87 L305.37 202.87 L306.74 203.33 L307.19 203.79 L307.65 204.70 L307.65 206.07 L307.19 206.99 L306.74 207.44 L305.37 207.90 L301.25 207.90 M310.85 202.42 L319.08 202.42 M310.85 205.16 L319.08 205.16 M325.02 198.30 L323.65 198.76 L322.73 200.13 L322.28 202.42 L322.28 203.79 L322.73 206.07 L323.65 207.44 L325.02 207.90 L325.93 207.90 L327.30 207.44 L328.22 206.07 L328.67 203.79 L328.67 202.42 L328.22 200.13 L327.30 198.76 L325.93 198.30 L325.02 198.30" stroke="#000" stroke-width="1.3" fill="none" stroke-linecap="round" stroke-linejoin="round"/>
</svg>
</body></html>
